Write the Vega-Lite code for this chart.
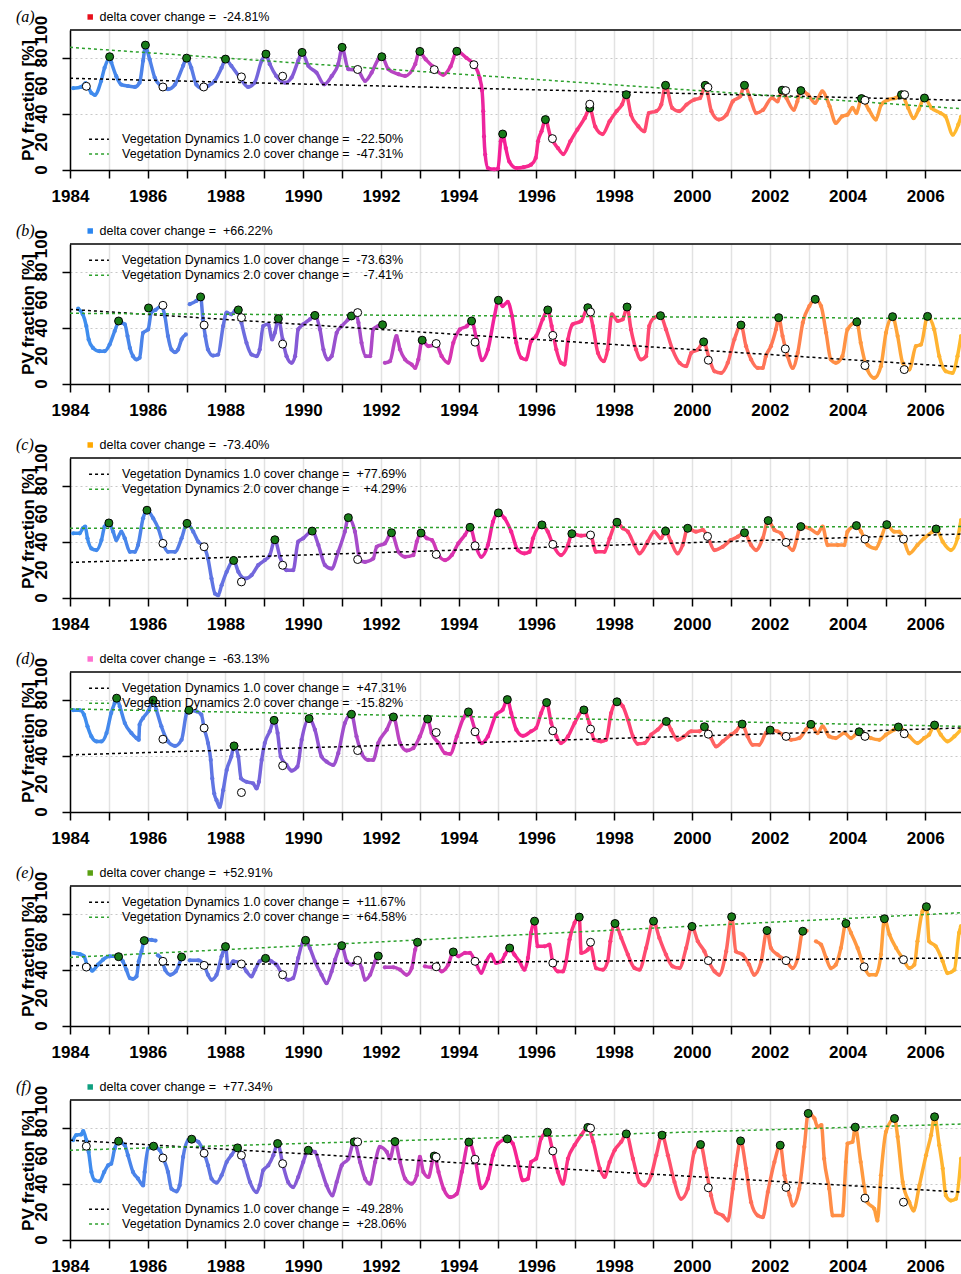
{
"$schema":"https://vega.github.io/schema/vega-lite/v6.json",
"padding":{"left":15,"top":8,"right":0,"bottom":0},
"bounds":"flush",
"spacing":74,
"config":{"view":{"stroke":null},"font":"Liberation Sans",
"axis":{"domainColor":"#000","domainWidth":1.5,"tickColor":"#000","tickWidth":1.5,"tickSize":8,"labelColor":"#000","labelFont":"Liberation Sans","labelFontWeight":"bold","labelFontSize":17,"labelPadding":10,"titleColor":"#000","titleFont":"Liberation Sans","titleFontWeight":"bold","titleFontSize":17},
"axisX":{"gridColor":"#e2e2e2","gridWidth":1.5},
"axisY":{"gridColor":"#c8c8c8","gridDash":[2,3],"gridWidth":1}},
"datasets":{
"yl":[{"y":0},{"y":20},{"y":40},{"y":60},{"y":80},{"y":100}],
"s":[
{"p":"a","t":1984.08,"v":58.4},{"p":"a","t":1984.29,"v":59.3},{"p":"a","t":1984.4,"v":62},{"p":"a","t":1984.55,"v":55},{"p":"a","t":1984.64,"v":53.6},{"p":"a","t":1984.8,"v":63.6},{"p":"a","t":1984.89,"v":73},{"p":"a","t":1985.02,"v":80},{"p":"a","t":1985.06,"v":77},{"p":"a","t":1985.19,"v":67},{"p":"a","t":1985.32,"v":61},{"p":"a","t":1985.49,"v":60},{"p":"a","t":1985.67,"v":59.3},{"p":"a","t":1985.79,"v":62.4},{"p":"a","t":1985.88,"v":78},{"p":"a","t":1985.94,"v":88},{"p":"a","t":1986.05,"v":79},{"p":"a","t":1986.18,"v":66},{"p":"a","t":1986.35,"v":59.8},{"p":"a","t":1986.52,"v":57.7},{"p":"a","t":1986.7,"v":61},{"p":"a","t":1986.91,"v":74.4},{"p":"a","t":1987.0,"v":80},{"p":"a","t":1987.12,"v":73},{"p":"a","t":1987.25,"v":61},{"p":"a","t":1987.38,"v":58.4},{"p":"a","t":1987.55,"v":60},{"p":"a","t":1987.72,"v":63.6},{"p":"a","t":1987.9,"v":73},{"p":"a","t":1988.0,"v":79},{"p":"a","t":1988.15,"v":74.4},{"p":"a","t":1988.37,"v":66},{"p":"a","t":1988.58,"v":59.3},{"p":"a","t":1988.75,"v":62.4},{"p":"a","t":1988.93,"v":78},{"p":"a","t":1989.04,"v":82.5},{"p":"a","t":1989.14,"v":75.6},{"p":"a","t":1989.31,"v":67},{"p":"a","t":1989.53,"v":62.4},{"p":"a","t":1989.7,"v":66},{"p":"a","t":1989.87,"v":78},{"p":"a","t":1989.97,"v":84},{"p":"a","t":1990.13,"v":74.4},{"p":"a","t":1990.34,"v":69.6},{"p":"a","t":1990.54,"v":61.2},{"p":"a","t":1990.73,"v":67},{"p":"a","t":1990.9,"v":75.6},{"p":"a","t":1991.0,"v":87},{"p":"a","t":1991.16,"v":72},{"p":"a","t":1991.4,"v":71.3},{"p":"a","t":1991.59,"v":63.6},{"p":"a","t":1991.76,"v":69.6},{"p":"a","t":1991.93,"v":79},{"p":"a","t":1992.02,"v":81},{"p":"a","t":1992.19,"v":72},{"p":"a","t":1992.45,"v":68.4},{"p":"a","t":1992.62,"v":67.2},{"p":"a","t":1992.88,"v":75.6},{"p":"a","t":1992.98,"v":84.3},{"p":"a","t":1993.15,"v":79},{"p":"a","t":1993.33,"v":74},{"p":"a","t":1993.6,"v":68},{"p":"a","t":1993.79,"v":74},{"p":"a","t":1993.95,"v":84.8},{"p":"a","t":1994.2,"v":80},{"p":"a","t":1994.39,"v":75.2},{"p":"a","t":1994.54,"v":65.7},{"p":"a","t":1994.6,"v":56.7},{"p":"a","t":1994.63,"v":42},{"p":"a","t":1994.65,"v":24},{"p":"a","t":1994.68,"v":11},{"p":"a","t":1994.75,"v":1.4},{"p":"a","t":1994.91,"v":0.5},{"p":"a","t":1995.01,"v":1},{"p":"a","t":1995.08,"v":20.5},{"p":"a","t":1995.13,"v":25.7},{"p":"a","t":1995.21,"v":15.7},{"p":"a","t":1995.3,"v":6},{"p":"a","t":1995.49,"v":1.4},{"p":"a","t":1995.67,"v":2},{"p":"a","t":1995.86,"v":3.8},{"p":"a","t":1995.98,"v":8.6},{"p":"a","t":1996.04,"v":20.5},{"p":"a","t":1996.13,"v":27.6},{"p":"a","t":1996.23,"v":36},{"p":"a","t":1996.36,"v":24},{"p":"a","t":1996.55,"v":15.7},{"p":"a","t":1996.69,"v":11.4},{"p":"a","t":1996.87,"v":20.5},{"p":"a","t":1997.05,"v":28.8},{"p":"a","t":1997.24,"v":37},{"p":"a","t":1997.37,"v":44},{"p":"a","t":1997.51,"v":31},{"p":"a","t":1997.7,"v":25.7},{"p":"a","t":1997.88,"v":34.8},{"p":"a","t":1998.06,"v":42},{"p":"a","t":1998.2,"v":46.7},{"p":"a","t":1998.31,"v":53.8},{"p":"a","t":1998.43,"v":39.5},{"p":"a","t":1998.62,"v":31.2},{"p":"a","t":1998.77,"v":27.6},{"p":"a","t":1998.89,"v":40.7},{"p":"a","t":1999.08,"v":42},{"p":"a","t":1999.21,"v":46.7},{"p":"a","t":1999.32,"v":60.5},{"p":"a","t":1999.49,"v":44.3},{"p":"a","t":1999.67,"v":42},{"p":"a","t":1999.86,"v":46.7},{"p":"a","t":2000.06,"v":50.2},{"p":"a","t":2000.21,"v":51.4},{"p":"a","t":2000.34,"v":60.5},{"p":"a","t":2000.5,"v":42},{"p":"a","t":2000.69,"v":36},{"p":"a","t":2000.89,"v":39.5},{"p":"a","t":2001.05,"v":49},{"p":"a","t":2001.24,"v":52.6},{"p":"a","t":2001.35,"v":60.5},{"p":"a","t":2001.51,"v":50.2},{"p":"a","t":2001.65,"v":40.7},{"p":"a","t":2001.83,"v":43},{"p":"a","t":2002.06,"v":51.4},{"p":"a","t":2002.2,"v":49},{"p":"a","t":2002.32,"v":57},{"p":"a","t":2002.43,"v":51.4},{"p":"a","t":2002.62,"v":43},{"p":"a","t":2002.71,"v":49},{"p":"a","t":2002.8,"v":56.7},{"p":"a","t":2002.98,"v":53.8},{"p":"a","t":2003.17,"v":47.9},{"p":"a","t":2003.35,"v":56.2},{"p":"a","t":2003.54,"v":45.5},{"p":"a","t":2003.7,"v":33.6},{"p":"a","t":2003.86,"v":38.3},{"p":"a","t":2004.0,"v":39.5},{"p":"a","t":2004.13,"v":44.3},{"p":"a","t":2004.23,"v":40.7},{"p":"a","t":2004.36,"v":51},{"p":"a","t":2004.55,"v":43},{"p":"a","t":2004.73,"v":36},{"p":"a","t":2004.87,"v":46.7},{"p":"a","t":2005.05,"v":50.2},{"p":"a","t":2005.24,"v":51.4},{"p":"a","t":2005.39,"v":53.8},{"p":"a","t":2005.56,"v":44.3},{"p":"a","t":2005.7,"v":37},{"p":"a","t":2005.83,"v":43},{"p":"a","t":2005.98,"v":51.4},{"p":"a","t":2006.16,"v":44.3},{"p":"a","t":2006.39,"v":40.7},{"p":"a","t":2006.52,"v":38.3},{"p":"a","t":2006.71,"v":25.2},{"p":"a","t":2006.85,"v":32.4},{"p":"a","t":2006.92,"v":38},
{"p":"b","t":1984.21,"v":53.8},{"p":"b","t":1984.33,"v":49.8},{"p":"b","t":1984.42,"v":41.4},{"p":"b","t":1984.48,"v":31.8},{"p":"b","t":1984.59,"v":25.8},{"p":"b","t":1984.76,"v":23.4},{"p":"b","t":1984.89,"v":23.4},{"p":"b","t":1985.02,"v":28.2},{"p":"b","t":1985.15,"v":37.8},{"p":"b","t":1985.25,"v":44},{"p":"b","t":1985.32,"v":43.8},{"p":"b","t":1985.41,"v":42.6},{"p":"b","t":1985.48,"v":34.2},{"p":"b","t":1985.54,"v":25.8},{"p":"b","t":1985.62,"v":19.9},{"p":"b","t":1985.71,"v":17.5},{"p":"b","t":1985.79,"v":18.7},{"p":"b","t":1985.88,"v":36.6},{"p":"b","t":1986.01,"v":39},{"p":"b","t":1986.09,"v":51},{"p":"b","t":1986.2,"v":52.9},{"p":"b","t":1986.35,"v":55.7},{"p":"b","t":1986.44,"v":48.6},{"p":"b","t":1986.52,"v":34.2},{"p":"b","t":1986.61,"v":24.6},{"p":"b","t":1986.7,"v":22.7},{"p":"b","t":1986.78,"v":24.6},{"p":"b","t":1986.87,"v":31.8},{"p":"b","t":1986.98,"v":35.4},{"p":"b","t":1987.03,"v":null},{"p":"b","t":1987.08,"v":57},{"p":"b","t":1987.25,"v":59.3},{"p":"b","t":1987.36,"v":62.2},{"p":"b","t":1987.42,"v":46.2},{"p":"b","t":1987.48,"v":34.2},{"p":"b","t":1987.55,"v":24.6},{"p":"b","t":1987.68,"v":20.3},{"p":"b","t":1987.81,"v":21},{"p":"b","t":1987.94,"v":41.4},{"p":"b","t":1988.03,"v":51},{"p":"b","t":1988.15,"v":49.8},{"p":"b","t":1988.24,"v":52.2},{"p":"b","t":1988.33,"v":52.9},{"p":"b","t":1988.41,"v":43.8},{"p":"b","t":1988.54,"v":29.4},{"p":"b","t":1988.67,"v":21},{"p":"b","t":1988.8,"v":19.9},{"p":"b","t":1988.88,"v":24.6},{"p":"b","t":1988.97,"v":41.4},{"p":"b","t":1989.1,"v":42.6},{"p":"b","t":1989.2,"v":31.8},{"p":"b","t":1989.27,"v":36.6},{"p":"b","t":1989.36,"v":46.7},{"p":"b","t":1989.47,"v":31.8},{"p":"b","t":1989.57,"v":19.9},{"p":"b","t":1989.7,"v":15.1},{"p":"b","t":1989.79,"v":19.9},{"p":"b","t":1989.87,"v":39},{"p":"b","t":1990.0,"v":42.6},{"p":"b","t":1990.17,"v":46.2},{"p":"b","t":1990.3,"v":49},{"p":"b","t":1990.43,"v":39},{"p":"b","t":1990.52,"v":24.6},{"p":"b","t":1990.63,"v":17.5},{"p":"b","t":1990.73,"v":19.9},{"p":"b","t":1990.86,"v":36.6},{"p":"b","t":1990.99,"v":41.4},{"p":"b","t":1991.16,"v":46.2},{"p":"b","t":1991.24,"v":48.6},{"p":"b","t":1991.35,"v":50},{"p":"b","t":1991.42,"v":43.8},{"p":"b","t":1991.5,"v":29.4},{"p":"b","t":1991.61,"v":19.9},{"p":"b","t":1991.72,"v":19.9},{"p":"b","t":1991.8,"v":39},{"p":"b","t":1991.93,"v":41.4},{"p":"b","t":1992.04,"v":42.3},{"p":"b","t":1992.07,"v":null},{"p":"b","t":1992.1,"v":15.1},{"p":"b","t":1992.23,"v":16.3},{"p":"b","t":1992.4,"v":34.2},{"p":"b","t":1992.49,"v":24.6},{"p":"b","t":1992.62,"v":17.5},{"p":"b","t":1992.79,"v":13.9},{"p":"b","t":1992.88,"v":11.5},{"p":"b","t":1992.96,"v":17.5},{"p":"b","t":1993.06,"v":31.3},{"p":"b","t":1993.22,"v":27},{"p":"b","t":1993.42,"v":28},{"p":"b","t":1993.56,"v":19.9},{"p":"b","t":1993.73,"v":15.1},{"p":"b","t":1993.86,"v":29.4},{"p":"b","t":1994.03,"v":39},{"p":"b","t":1994.21,"v":41.4},{"p":"b","t":1994.33,"v":45},{"p":"b","t":1994.46,"v":31.8},{"p":"b","t":1994.6,"v":17},{"p":"b","t":1994.75,"v":24.6},{"p":"b","t":1994.92,"v":48.6},{"p":"b","t":1995.02,"v":59.8},{"p":"b","t":1995.13,"v":55.7},{"p":"b","t":1995.26,"v":58.6},{"p":"b","t":1995.37,"v":48.6},{"p":"b","t":1995.48,"v":29.4},{"p":"b","t":1995.61,"v":18.7},{"p":"b","t":1995.73,"v":17.5},{"p":"b","t":1995.86,"v":30.6},{"p":"b","t":1995.99,"v":34.2},{"p":"b","t":1996.16,"v":46.2},{"p":"b","t":1996.29,"v":52.9},{"p":"b","t":1996.39,"v":41.4},{"p":"b","t":1996.51,"v":24.6},{"p":"b","t":1996.63,"v":15.1},{"p":"b","t":1996.72,"v":13.9},{"p":"b","t":1996.81,"v":31.8},{"p":"b","t":1996.93,"v":42.6},{"p":"b","t":1997.15,"v":45},{"p":"b","t":1997.32,"v":54.5},{"p":"b","t":1997.45,"v":41.4},{"p":"b","t":1997.58,"v":22.2},{"p":"b","t":1997.73,"v":16.3},{"p":"b","t":1997.83,"v":24.6},{"p":"b","t":1997.94,"v":49.8},{"p":"b","t":1998.09,"v":45},{"p":"b","t":1998.22,"v":46.2},{"p":"b","t":1998.33,"v":55},{"p":"b","t":1998.43,"v":39},{"p":"b","t":1998.56,"v":24.6},{"p":"b","t":1998.69,"v":17.5},{"p":"b","t":1998.82,"v":19.9},{"p":"b","t":1998.9,"v":41.4},{"p":"b","t":1999.03,"v":47.4},{"p":"b","t":1999.19,"v":48.8},{"p":"b","t":1999.33,"v":39},{"p":"b","t":1999.5,"v":24.6},{"p":"b","t":1999.68,"v":15.1},{"p":"b","t":1999.85,"v":12.7},{"p":"b","t":1999.98,"v":22.2},{"p":"b","t":2000.15,"v":24.6},{"p":"b","t":2000.3,"v":30.1},{"p":"b","t":2000.45,"v":17.5},{"p":"b","t":2000.58,"v":9.1},{"p":"b","t":2000.75,"v":7.9},{"p":"b","t":2000.92,"v":15.1},{"p":"b","t":2001.09,"v":31.8},{"p":"b","t":2001.26,"v":42.1},{"p":"b","t":2001.39,"v":27},{"p":"b","t":2001.52,"v":17.5},{"p":"b","t":2001.69,"v":11.5},{"p":"b","t":2001.82,"v":11.5},{"p":"b","t":2001.9,"v":19.9},{"p":"b","t":2002.03,"v":27},{"p":"b","t":2002.16,"v":39},{"p":"b","t":2002.23,"v":47.4},{"p":"b","t":2002.33,"v":34.2},{"p":"b","t":2002.46,"v":19.9},{"p":"b","t":2002.59,"v":11.5},{"p":"b","t":2002.72,"v":22.2},{"p":"b","t":2002.85,"v":43.8},{"p":"b","t":2003.02,"v":55.7},{"p":"b","t":2003.17,"v":60.5},{"p":"b","t":2003.32,"v":55.7},{"p":"b","t":2003.45,"v":36.6},{"p":"b","t":2003.57,"v":17.5},{"p":"b","t":2003.7,"v":15.1},{"p":"b","t":2003.87,"v":19.9},{"p":"b","t":2004.0,"v":39},{"p":"b","t":2004.24,"v":44.3},{"p":"b","t":2004.34,"v":29.4},{"p":"b","t":2004.51,"v":10.3},{"p":"b","t":2004.69,"v":4.3},{"p":"b","t":2004.86,"v":12.7},{"p":"b","t":2004.99,"v":36.6},{"p":"b","t":2005.16,"v":48.1},{"p":"b","t":2005.29,"v":34.2},{"p":"b","t":2005.42,"v":15.1},{"p":"b","t":2005.59,"v":10.3},{"p":"b","t":2005.76,"v":27},{"p":"b","t":2005.89,"v":28.2},{"p":"b","t":2006.06,"v":48.3},{"p":"b","t":2006.23,"v":39},{"p":"b","t":2006.36,"v":19.9},{"p":"b","t":2006.53,"v":9.1},{"p":"b","t":2006.7,"v":7.9},{"p":"b","t":2006.83,"v":19.9},{"p":"b","t":2006.92,"v":34.2},
{"p":"c","t":1984.08,"v":46.2},{"p":"c","t":1984.25,"v":46.2},{"p":"c","t":1984.33,"v":49.8},{"p":"c","t":1984.39,"v":51},{"p":"c","t":1984.45,"v":42.6},{"p":"c","t":1984.55,"v":35.4},{"p":"c","t":1984.68,"v":34.2},{"p":"c","t":1984.81,"v":41.4},{"p":"c","t":1984.89,"v":51},{"p":"c","t":1985.0,"v":53.6},{"p":"c","t":1985.11,"v":47.4},{"p":"c","t":1985.19,"v":41.4},{"p":"c","t":1985.32,"v":47.4},{"p":"c","t":1985.41,"v":42.6},{"p":"c","t":1985.54,"v":33},{"p":"c","t":1985.67,"v":33},{"p":"c","t":1985.75,"v":37.8},{"p":"c","t":1985.88,"v":56.9},{"p":"c","t":1985.98,"v":62.7},{"p":"c","t":1986.14,"v":56.9},{"p":"c","t":1986.27,"v":49.8},{"p":"c","t":1986.39,"v":39},{"p":"c","t":1986.52,"v":33},{"p":"c","t":1986.7,"v":33},{"p":"c","t":1986.87,"v":42.6},{"p":"c","t":1987.01,"v":53.3},{"p":"c","t":1987.17,"v":47.4},{"p":"c","t":1987.3,"v":40.2},{"p":"c","t":1987.45,"v":36.6},{"p":"c","t":1987.55,"v":28.2},{"p":"c","t":1987.64,"v":13.9},{"p":"c","t":1987.73,"v":3.1},{"p":"c","t":1987.81,"v":1.9},{"p":"c","t":1987.9,"v":9.1},{"p":"c","t":1988.03,"v":18.7},{"p":"c","t":1988.21,"v":26.8},{"p":"c","t":1988.33,"v":18.7},{"p":"c","t":1988.5,"v":13.9},{"p":"c","t":1988.67,"v":16.3},{"p":"c","t":1988.84,"v":23.4},{"p":"c","t":1989.01,"v":27},{"p":"c","t":1989.14,"v":30.6},{"p":"c","t":1989.27,"v":41.6},{"p":"c","t":1989.4,"v":29.4},{"p":"c","t":1989.57,"v":19.9},{"p":"c","t":1989.74,"v":19.9},{"p":"c","t":1989.87,"v":40.2},{"p":"c","t":1990.0,"v":42.6},{"p":"c","t":1990.23,"v":47.8},{"p":"c","t":1990.39,"v":37.8},{"p":"c","t":1990.56,"v":23.4},{"p":"c","t":1990.73,"v":21},{"p":"c","t":1990.9,"v":33},{"p":"c","t":1991.07,"v":47.4},{"p":"c","t":1991.16,"v":57.4},{"p":"c","t":1991.33,"v":47.4},{"p":"c","t":1991.46,"v":27},{"p":"c","t":1991.59,"v":25.8},{"p":"c","t":1991.8,"v":28.2},{"p":"c","t":1991.89,"v":36.6},{"p":"c","t":1992.1,"v":39},{"p":"c","t":1992.27,"v":46.6},{"p":"c","t":1992.45,"v":33},{"p":"c","t":1992.62,"v":29.4},{"p":"c","t":1992.83,"v":30.6},{"p":"c","t":1992.92,"v":40.2},{"p":"c","t":1993.03,"v":46.4},{"p":"c","t":1993.18,"v":42.6},{"p":"c","t":1993.31,"v":41.4},{"p":"c","t":1993.48,"v":30.6},{"p":"c","t":1993.65,"v":27},{"p":"c","t":1993.82,"v":30.6},{"p":"c","t":1993.99,"v":39},{"p":"c","t":1994.16,"v":45},{"p":"c","t":1994.29,"v":50.5},{"p":"c","t":1994.45,"v":36},{"p":"c","t":1994.58,"v":29.4},{"p":"c","t":1994.75,"v":37.8},{"p":"c","t":1994.88,"v":54.5},{"p":"c","t":1995.02,"v":60.8},{"p":"c","t":1995.18,"v":56.9},{"p":"c","t":1995.35,"v":47.4},{"p":"c","t":1995.52,"v":34.2},{"p":"c","t":1995.69,"v":31.8},{"p":"c","t":1995.82,"v":33},{"p":"c","t":1995.91,"v":42.6},{"p":"c","t":1996.14,"v":52.2},{"p":"c","t":1996.29,"v":47.4},{"p":"c","t":1996.42,"v":38.3},{"p":"c","t":1996.63,"v":30.6},{"p":"c","t":1996.81,"v":37.8},{"p":"c","t":1996.91,"v":45.9},{"p":"c","t":1997.15,"v":44.5},{"p":"c","t":1997.39,"v":45},{"p":"c","t":1997.53,"v":33},{"p":"c","t":1997.75,"v":33},{"p":"c","t":1997.88,"v":42.6},{"p":"c","t":1998.07,"v":54.1},{"p":"c","t":1998.22,"v":49.8},{"p":"c","t":1998.35,"v":47.4},{"p":"c","t":1998.52,"v":37.8},{"p":"c","t":1998.65,"v":31.8},{"p":"c","t":1998.86,"v":40.2},{"p":"c","t":1999.03,"v":47.4},{"p":"c","t":1999.2,"v":42.6},{"p":"c","t":1999.32,"v":47.8},{"p":"c","t":1999.46,"v":40.2},{"p":"c","t":1999.63,"v":31.8},{"p":"c","t":1999.76,"v":37.8},{"p":"c","t":1999.89,"v":49.8},{"p":"c","t":2000.1,"v":47.4},{"p":"c","t":2000.28,"v":48.6},{"p":"c","t":2000.4,"v":44},{"p":"c","t":2000.58,"v":34.2},{"p":"c","t":2000.79,"v":36.6},{"p":"c","t":2001.0,"v":41.4},{"p":"c","t":2001.18,"v":43.8},{"p":"c","t":2001.35,"v":46.6},{"p":"c","t":2001.52,"v":37.8},{"p":"c","t":2001.65,"v":34.2},{"p":"c","t":2001.82,"v":42.6},{"p":"c","t":2001.96,"v":55.3},{"p":"c","t":2002.12,"v":48.6},{"p":"c","t":2002.29,"v":46.2},{"p":"c","t":2002.42,"v":39.7},{"p":"c","t":2002.59,"v":34.2},{"p":"c","t":2002.8,"v":51},{"p":"c","t":2003.02,"v":49.8},{"p":"c","t":2003.23,"v":46.2},{"p":"c","t":2003.36,"v":51},{"p":"c","t":2003.49,"v":37.8},{"p":"c","t":2003.75,"v":37.8},{"p":"c","t":2003.92,"v":37.8},{"p":"c","t":2004.0,"v":47.4},{"p":"c","t":2004.23,"v":51.7},{"p":"c","t":2004.35,"v":47.4},{"p":"c","t":2004.52,"v":37.8},{"p":"c","t":2004.73,"v":35.4},{"p":"c","t":2004.86,"v":42.6},{"p":"c","t":2005.01,"v":52.4},{"p":"c","t":2005.2,"v":47.4},{"p":"c","t":2005.33,"v":47.4},{"p":"c","t":2005.44,"v":42.1},{"p":"c","t":2005.59,"v":31.8},{"p":"c","t":2005.8,"v":37.8},{"p":"c","t":2005.97,"v":42.6},{"p":"c","t":2006.19,"v":47.4},{"p":"c","t":2006.28,"v":49.3},{"p":"c","t":2006.45,"v":40.2},{"p":"c","t":2006.66,"v":34.2},{"p":"c","t":2006.83,"v":42.6},{"p":"c","t":2006.92,"v":55.7},
{"p":"d","t":1984.08,"v":72.7},{"p":"d","t":1984.25,"v":72.7},{"p":"d","t":1984.36,"v":69.5},{"p":"d","t":1984.45,"v":61.2},{"p":"d","t":1984.55,"v":54},{"p":"d","t":1984.68,"v":50.4},{"p":"d","t":1984.81,"v":50.4},{"p":"d","t":1984.94,"v":56.4},{"p":"d","t":1985.06,"v":70.7},{"p":"d","t":1985.15,"v":77.9},{"p":"d","t":1985.2,"v":81.3},{"p":"d","t":1985.28,"v":75.5},{"p":"d","t":1985.41,"v":63.5},{"p":"d","t":1985.58,"v":56.4},{"p":"d","t":1985.71,"v":52.8},{"p":"d","t":1985.77,"v":51.6},{"p":"d","t":1985.79,"v":62.4},{"p":"d","t":1985.88,"v":67.1},{"p":"d","t":1986.01,"v":71.9},{"p":"d","t":1986.14,"v":79.9},{"p":"d","t":1986.22,"v":73.1},{"p":"d","t":1986.35,"v":61.2},{"p":"d","t":1986.52,"v":50.4},{"p":"d","t":1986.7,"v":47.2},{"p":"d","t":1986.87,"v":51.6},{"p":"d","t":1987.0,"v":70.7},{"p":"d","t":1987.06,"v":72.7},{"p":"d","t":1987.25,"v":71.9},{"p":"d","t":1987.38,"v":69.5},{"p":"d","t":1987.45,"v":60},{"p":"d","t":1987.55,"v":49.2},{"p":"d","t":1987.62,"v":37.2},{"p":"d","t":1987.66,"v":24},{"p":"d","t":1987.71,"v":13.2},{"p":"d","t":1987.77,"v":8.4},{"p":"d","t":1987.85,"v":3.6},{"p":"d","t":1987.94,"v":15.6},{"p":"d","t":1988.03,"v":30},{"p":"d","t":1988.15,"v":39.6},{"p":"d","t":1988.22,"v":47.2},{"p":"d","t":1988.33,"v":39.6},{"p":"d","t":1988.4,"v":24},{"p":"d","t":1988.54,"v":21.6},{"p":"d","t":1988.71,"v":20.4},{"p":"d","t":1988.8,"v":16.8},{"p":"d","t":1988.86,"v":21.6},{"p":"d","t":1988.93,"v":37.2},{"p":"d","t":1989.01,"v":49.2},{"p":"d","t":1989.14,"v":57.6},{"p":"d","t":1989.25,"v":65.5},{"p":"d","t":1989.34,"v":56.4},{"p":"d","t":1989.42,"v":39.6},{"p":"d","t":1989.57,"v":33.6},{"p":"d","t":1989.7,"v":29.5},{"p":"d","t":1989.85,"v":32.4},{"p":"d","t":1989.96,"v":51.6},{"p":"d","t":1990.15,"v":66.7},{"p":"d","t":1990.3,"v":58.8},{"p":"d","t":1990.47,"v":39.6},{"p":"d","t":1990.6,"v":36},{"p":"d","t":1990.77,"v":33.6},{"p":"d","t":1990.9,"v":42},{"p":"d","t":1991.07,"v":63.5},{"p":"d","t":1991.24,"v":69.8},{"p":"d","t":1991.37,"v":54},{"p":"d","t":1991.5,"v":42},{"p":"d","t":1991.67,"v":37.2},{"p":"d","t":1991.8,"v":37.2},{"p":"d","t":1991.93,"v":49.2},{"p":"d","t":1992.15,"v":58.8},{"p":"d","t":1992.32,"v":67.9},{"p":"d","t":1992.49,"v":49.2},{"p":"d","t":1992.66,"v":43.9},{"p":"d","t":1992.83,"v":45.6},{"p":"d","t":1993.0,"v":54},{"p":"d","t":1993.2,"v":66.4},{"p":"d","t":1993.3,"v":56.4},{"p":"d","t":1993.48,"v":49.2},{"p":"d","t":1993.65,"v":42},{"p":"d","t":1993.78,"v":41.5},{"p":"d","t":1993.95,"v":54},{"p":"d","t":1994.12,"v":67.1},{"p":"d","t":1994.25,"v":71.5},{"p":"d","t":1994.42,"v":58.8},{"p":"d","t":1994.59,"v":49.2},{"p":"d","t":1994.75,"v":54},{"p":"d","t":1994.96,"v":69.5},{"p":"d","t":1995.13,"v":73.1},{"p":"d","t":1995.25,"v":80.3},{"p":"d","t":1995.35,"v":70.7},{"p":"d","t":1995.48,"v":58.8},{"p":"d","t":1995.65,"v":54.4},{"p":"d","t":1995.86,"v":57.6},{"p":"d","t":1995.99,"v":60},{"p":"d","t":1996.12,"v":70.7},{"p":"d","t":1996.26,"v":78.2},{"p":"d","t":1996.38,"v":63.5},{"p":"d","t":1996.51,"v":54},{"p":"d","t":1996.63,"v":49.2},{"p":"d","t":1996.81,"v":54},{"p":"d","t":1996.98,"v":63.5},{"p":"d","t":1997.22,"v":72.9},{"p":"d","t":1997.36,"v":63.5},{"p":"d","t":1997.49,"v":51.6},{"p":"d","t":1997.66,"v":50.4},{"p":"d","t":1997.79,"v":51.6},{"p":"d","t":1997.92,"v":70.7},{"p":"d","t":1998.07,"v":78.7},{"p":"d","t":1998.22,"v":75.5},{"p":"d","t":1998.35,"v":66},{"p":"d","t":1998.48,"v":54},{"p":"d","t":1998.6,"v":48.7},{"p":"d","t":1998.78,"v":49.2},{"p":"d","t":1998.95,"v":55.2},{"p":"d","t":1999.12,"v":58.8},{"p":"d","t":1999.34,"v":64.7},{"p":"d","t":1999.46,"v":58.8},{"p":"d","t":1999.63,"v":51.6},{"p":"d","t":1999.8,"v":54},{"p":"d","t":1999.98,"v":57.6},{"p":"d","t":2000.19,"v":57.6},{"p":"d","t":2000.32,"v":60.9},{"p":"d","t":2000.49,"v":52.8},{"p":"d","t":2000.62,"v":46.8},{"p":"d","t":2000.79,"v":50.4},{"p":"d","t":2001.0,"v":55.2},{"p":"d","t":2001.13,"v":57.6},{"p":"d","t":2001.29,"v":62.8},{"p":"d","t":2001.43,"v":54},{"p":"d","t":2001.56,"v":48},{"p":"d","t":2001.73,"v":48},{"p":"d","t":2001.9,"v":56.4},{"p":"d","t":2002.01,"v":58.5},{"p":"d","t":2002.2,"v":57.6},{"p":"d","t":2002.33,"v":55.2},{"p":"d","t":2002.55,"v":51.6},{"p":"d","t":2002.76,"v":52.8},{"p":"d","t":2002.93,"v":58.8},{"p":"d","t":2003.06,"v":62.6},{"p":"d","t":2003.23,"v":56.4},{"p":"d","t":2003.36,"v":61.2},{"p":"d","t":2003.53,"v":54},{"p":"d","t":2003.7,"v":52.8},{"p":"d","t":2003.92,"v":56.4},{"p":"d","t":2004.09,"v":52.8},{"p":"d","t":2004.3,"v":57.3},{"p":"d","t":2004.6,"v":52.8},{"p":"d","t":2004.82,"v":51.6},{"p":"d","t":2004.99,"v":55.2},{"p":"d","t":2005.2,"v":58.8},{"p":"d","t":2005.31,"v":60.7},{"p":"d","t":2005.59,"v":54},{"p":"d","t":2005.8,"v":49.2},{"p":"d","t":2005.97,"v":52.8},{"p":"d","t":2006.1,"v":55.2},{"p":"d","t":2006.24,"v":62.1},{"p":"d","t":2006.4,"v":55.2},{"p":"d","t":2006.57,"v":50.4},{"p":"d","t":2006.75,"v":54},{"p":"d","t":2006.92,"v":58.8},
{"p":"e","t":1984.08,"v":52.2},{"p":"e","t":1984.25,"v":51.4},{"p":"e","t":1984.36,"v":49.8},{"p":"e","t":1984.45,"v":43},{"p":"e","t":1984.51,"v":41.4},{"p":"e","t":1984.57,"v":39.5},{"p":"e","t":1984.72,"v":43.8},{"p":"e","t":1984.85,"v":47.4},{"p":"e","t":1985.02,"v":49.8},{"p":"e","t":1985.19,"v":49.8},{"p":"e","t":1985.25,"v":49.5},{"p":"e","t":1985.36,"v":46.2},{"p":"e","t":1985.45,"v":40.2},{"p":"e","t":1985.54,"v":34.2},{"p":"e","t":1985.62,"v":33.7},{"p":"e","t":1985.71,"v":35.4},{"p":"e","t":1985.77,"v":46.2},{"p":"e","t":1985.84,"v":53.3},{"p":"e","t":1985.91,"v":61},{"p":"e","t":1986.0,"v":61.7},{"p":"e","t":1986.1,"v":61.5},{"p":"e","t":1986.2,"v":61},{"p":"e","t":1986.23,"v":null},{"p":"e","t":1986.26,"v":50.5},{"p":"e","t":1986.35,"v":48},{"p":"e","t":1986.45,"v":40},{"p":"e","t":1986.58,"v":36.6},{"p":"e","t":1986.72,"v":39},{"p":"e","t":1986.87,"v":49.3},{"p":"e","t":1986.97,"v":null},{"p":"e","t":1987.08,"v":46.9},{"p":"e","t":1987.3,"v":46.9},{"p":"e","t":1987.45,"v":43.3},{"p":"e","t":1987.55,"v":36.6},{"p":"e","t":1987.64,"v":33},{"p":"e","t":1987.77,"v":36.6},{"p":"e","t":1987.9,"v":49.8},{"p":"e","t":1988.0,"v":56.7},{"p":"e","t":1988.07,"v":41.4},{"p":"e","t":1988.2,"v":46.2},{"p":"e","t":1988.41,"v":44.3},{"p":"e","t":1988.54,"v":39},{"p":"e","t":1988.67,"v":35.4},{"p":"e","t":1988.76,"v":40.2},{"p":"e","t":1988.88,"v":46.2},{"p":"e","t":1989.03,"v":48.3},{"p":"e","t":1989.18,"v":46.2},{"p":"e","t":1989.31,"v":43.8},{"p":"e","t":1989.47,"v":36.6},{"p":"e","t":1989.61,"v":33},{"p":"e","t":1989.74,"v":34.2},{"p":"e","t":1989.87,"v":48.6},{"p":"e","t":1990.0,"v":60.5},{"p":"e","t":1990.06,"v":61.2},{"p":"e","t":1990.17,"v":55.7},{"p":"e","t":1990.3,"v":46.2},{"p":"e","t":1990.47,"v":36.6},{"p":"e","t":1990.6,"v":30.6},{"p":"e","t":1990.73,"v":39},{"p":"e","t":1990.82,"v":47.4},{"p":"e","t":1990.99,"v":57.4},{"p":"e","t":1991.12,"v":46.2},{"p":"e","t":1991.24,"v":43.8},{"p":"e","t":1991.4,"v":46.9},{"p":"e","t":1991.5,"v":41.4},{"p":"e","t":1991.59,"v":33},{"p":"e","t":1991.72,"v":36.6},{"p":"e","t":1991.85,"v":46.2},{"p":"e","t":1991.93,"v":50},{"p":"e","t":1992.0,"v":null},{"p":"e","t":1992.1,"v":41.9},{"p":"e","t":1992.32,"v":41.9},{"p":"e","t":1992.49,"v":40.2},{"p":"e","t":1992.66,"v":36.6},{"p":"e","t":1992.79,"v":41.4},{"p":"e","t":1992.88,"v":54.5},{"p":"e","t":1992.94,"v":59.8},{"p":"e","t":1993.03,"v":null},{"p":"e","t":1993.13,"v":42.6},{"p":"e","t":1993.3,"v":41.9},{"p":"e","t":1993.42,"v":42.3},{"p":"e","t":1993.56,"v":39},{"p":"e","t":1993.73,"v":43.8},{"p":"e","t":1993.86,"v":52.9},{"p":"e","t":1993.99,"v":49.8},{"p":"e","t":1994.16,"v":52.2},{"p":"e","t":1994.29,"v":52.2},{"p":"e","t":1994.42,"v":46.2},{"p":"e","t":1994.58,"v":38},{"p":"e","t":1994.71,"v":46.2},{"p":"e","t":1994.83,"v":51},{"p":"e","t":1994.96,"v":45},{"p":"e","t":1995.09,"v":46.2},{"p":"e","t":1995.19,"v":51},{"p":"e","t":1995.31,"v":55.7},{"p":"e","t":1995.43,"v":51},{"p":"e","t":1995.56,"v":46.2},{"p":"e","t":1995.69,"v":40.2},{"p":"e","t":1995.78,"v":48.6},{"p":"e","t":1995.86,"v":66.5},{"p":"e","t":1995.95,"v":74.9},{"p":"e","t":1996.03,"v":56.9},{"p":"e","t":1996.21,"v":56.9},{"p":"e","t":1996.33,"v":58.1},{"p":"e","t":1996.42,"v":45},{"p":"e","t":1996.55,"v":39},{"p":"e","t":1996.68,"v":39},{"p":"e","t":1996.76,"v":46.2},{"p":"e","t":1996.85,"v":61.7},{"p":"e","t":1996.98,"v":73.7},{"p":"e","t":1997.1,"v":77.8},{"p":"e","t":1997.15,"v":52.2},{"p":"e","t":1997.32,"v":54.5},{"p":"e","t":1997.39,"v":57},{"p":"e","t":1997.53,"v":41.4},{"p":"e","t":1997.71,"v":40.2},{"p":"e","t":1997.83,"v":46.2},{"p":"e","t":1997.9,"v":60.5},{"p":"e","t":1998.02,"v":73.2},{"p":"e","t":1998.18,"v":62.9},{"p":"e","t":1998.35,"v":51},{"p":"e","t":1998.52,"v":41.4},{"p":"e","t":1998.65,"v":40.2},{"p":"e","t":1998.82,"v":55.7},{"p":"e","t":1999.01,"v":74.9},{"p":"e","t":1999.16,"v":62.9},{"p":"e","t":1999.33,"v":51},{"p":"e","t":1999.5,"v":42.6},{"p":"e","t":1999.68,"v":41.4},{"p":"e","t":1999.85,"v":55.7},{"p":"e","t":2000.0,"v":71.1},{"p":"e","t":2000.15,"v":60.5},{"p":"e","t":2000.32,"v":53.3},{"p":"e","t":2000.42,"v":46.7},{"p":"e","t":2000.58,"v":39},{"p":"e","t":2000.7,"v":36.6},{"p":"e","t":2000.88,"v":53.3},{"p":"e","t":2001.02,"v":78},{"p":"e","t":2001.13,"v":53.3},{"p":"e","t":2001.3,"v":51},{"p":"e","t":2001.47,"v":43.8},{"p":"e","t":2001.6,"v":36.6},{"p":"e","t":2001.78,"v":46.2},{"p":"e","t":2001.93,"v":68.2},{"p":"e","t":2002.03,"v":55.7},{"p":"e","t":2002.2,"v":51},{"p":"e","t":2002.42,"v":46.7},{"p":"e","t":2002.59,"v":41.4},{"p":"e","t":2002.72,"v":48.6},{"p":"e","t":2002.85,"v":67.7},{"p":"e","t":2002.95,"v":68},{"p":"e","t":2003.05,"v":null},{"p":"e","t":2003.19,"v":60.5},{"p":"e","t":2003.32,"v":58.1},{"p":"e","t":2003.45,"v":48.6},{"p":"e","t":2003.57,"v":41.4},{"p":"e","t":2003.7,"v":43.8},{"p":"e","t":2003.83,"v":55.7},{"p":"e","t":2003.96,"v":73.2},{"p":"e","t":2004.09,"v":66.5},{"p":"e","t":2004.26,"v":55.7},{"p":"e","t":2004.43,"v":42.3},{"p":"e","t":2004.56,"v":36.6},{"p":"e","t":2004.73,"v":36.6},{"p":"e","t":2004.86,"v":51},{"p":"e","t":2004.95,"v":76.6},{"p":"e","t":2005.08,"v":65.3},{"p":"e","t":2005.25,"v":55.7},{"p":"e","t":2005.44,"v":47.4},{"p":"e","t":2005.59,"v":41.4},{"p":"e","t":2005.72,"v":43.8},{"p":"e","t":2005.8,"v":60.5},{"p":"e","t":2005.93,"v":82},{"p":"e","t":2006.03,"v":85.2},{"p":"e","t":2006.1,"v":60.5},{"p":"e","t":2006.27,"v":56.9},{"p":"e","t":2006.45,"v":46.2},{"p":"e","t":2006.57,"v":37.8},{"p":"e","t":2006.75,"v":40.2},{"p":"e","t":2006.87,"v":66.5},{"p":"e","t":2006.92,"v":71.3},
{"p":"f","t":1984.08,"v":71.3},{"p":"f","t":1984.16,"v":74.9},{"p":"f","t":1984.29,"v":75.4},{"p":"f","t":1984.34,"v":77.8},{"p":"f","t":1984.42,"v":71.3},{"p":"f","t":1984.48,"v":62.9},{"p":"f","t":1984.55,"v":48.6},{"p":"f","t":1984.64,"v":42.6},{"p":"f","t":1984.76,"v":41.9},{"p":"f","t":1984.88,"v":48.6},{"p":"f","t":1984.98,"v":53.3},{"p":"f","t":1985.06,"v":54.5},{"p":"f","t":1985.15,"v":65.3},{"p":"f","t":1985.25,"v":70.6},{"p":"f","t":1985.41,"v":67.7},{"p":"f","t":1985.49,"v":60.5},{"p":"f","t":1985.62,"v":48.6},{"p":"f","t":1985.75,"v":43.8},{"p":"f","t":1985.88,"v":39},{"p":"f","t":1985.92,"v":48.6},{"p":"f","t":1986.01,"v":65.3},{"p":"f","t":1986.15,"v":67},{"p":"f","t":1986.31,"v":64.1},{"p":"f","t":1986.39,"v":59},{"p":"f","t":1986.52,"v":48.6},{"p":"f","t":1986.61,"v":36.6},{"p":"f","t":1986.74,"v":34.7},{"p":"f","t":1986.82,"v":39},{"p":"f","t":1986.91,"v":59.3},{"p":"f","t":1987.04,"v":71.3},{"p":"f","t":1987.13,"v":72},{"p":"f","t":1987.3,"v":70.1},{"p":"f","t":1987.45,"v":62},{"p":"f","t":1987.55,"v":53.3},{"p":"f","t":1987.64,"v":43.8},{"p":"f","t":1987.77,"v":40.9},{"p":"f","t":1987.9,"v":46.2},{"p":"f","t":1988.03,"v":55.7},{"p":"f","t":1988.15,"v":60.5},{"p":"f","t":1988.31,"v":65.8},{"p":"f","t":1988.5,"v":53.3},{"p":"f","t":1988.63,"v":41.4},{"p":"f","t":1988.8,"v":34.2},{"p":"f","t":1988.88,"v":39},{"p":"f","t":1988.97,"v":49.8},{"p":"f","t":1989.1,"v":53.3},{"p":"f","t":1989.23,"v":60.5},{"p":"f","t":1989.34,"v":68.9},{"p":"f","t":1989.48,"v":53.3},{"p":"f","t":1989.61,"v":41.4},{"p":"f","t":1989.74,"v":37.8},{"p":"f","t":1989.87,"v":45},{"p":"f","t":1990.0,"v":55.7},{"p":"f","t":1990.13,"v":64.1},{"p":"f","t":1990.3,"v":62.9},{"p":"f","t":1990.43,"v":53.3},{"p":"f","t":1990.6,"v":39},{"p":"f","t":1990.75,"v":31.8},{"p":"f","t":1990.86,"v":41.4},{"p":"f","t":1990.99,"v":53.3},{"p":"f","t":1991.16,"v":58.1},{"p":"f","t":1991.31,"v":70.1},{"p":"f","t":1991.46,"v":55.7},{"p":"f","t":1991.59,"v":43.8},{"p":"f","t":1991.72,"v":40.2},{"p":"f","t":1991.85,"v":55.7},{"p":"f","t":1991.97,"v":66.5},{"p":"f","t":1992.15,"v":62.9},{"p":"f","t":1992.23,"v":58.1},{"p":"f","t":1992.36,"v":70.3},{"p":"f","t":1992.49,"v":55.7},{"p":"f","t":1992.62,"v":43.8},{"p":"f","t":1992.79,"v":40.2},{"p":"f","t":1992.92,"v":46.2},{"p":"f","t":1993.0,"v":59.3},{"p":"f","t":1993.09,"v":48.6},{"p":"f","t":1993.22,"v":45},{"p":"f","t":1993.37,"v":60},{"p":"f","t":1993.48,"v":48.6},{"p":"f","t":1993.61,"v":36.6},{"p":"f","t":1993.78,"v":30.6},{"p":"f","t":1993.95,"v":33},{"p":"f","t":1994.08,"v":48.6},{"p":"f","t":1994.26,"v":69.9},{"p":"f","t":1994.42,"v":58.1},{"p":"f","t":1994.58,"v":37},{"p":"f","t":1994.75,"v":43.8},{"p":"f","t":1994.88,"v":60.5},{"p":"f","t":1995.01,"v":68.9},{"p":"f","t":1995.25,"v":72.2},{"p":"f","t":1995.39,"v":68.9},{"p":"f","t":1995.52,"v":55.7},{"p":"f","t":1995.65,"v":42.6},{"p":"f","t":1995.78,"v":43.8},{"p":"f","t":1995.86,"v":55.7},{"p":"f","t":1995.99,"v":58.1},{"p":"f","t":1996.12,"v":72.5},{"p":"f","t":1996.28,"v":77},{"p":"f","t":1996.42,"v":63},{"p":"f","t":1996.55,"v":48.6},{"p":"f","t":1996.68,"v":40.2},{"p":"f","t":1996.81,"v":58.1},{"p":"f","t":1996.98,"v":67.7},{"p":"f","t":1997.15,"v":74.9},{"p":"f","t":1997.32,"v":80.4},{"p":"f","t":1997.46,"v":70.1},{"p":"f","t":1997.63,"v":51},{"p":"f","t":1997.75,"v":45},{"p":"f","t":1997.88,"v":55.7},{"p":"f","t":1998.01,"v":64.1},{"p":"f","t":1998.18,"v":70.1},{"p":"f","t":1998.31,"v":75.8},{"p":"f","t":1998.48,"v":58.1},{"p":"f","t":1998.65,"v":41.4},{"p":"f","t":1998.78,"v":39},{"p":"f","t":1998.95,"v":46.2},{"p":"f","t":1999.08,"v":60.5},{"p":"f","t":1999.23,"v":74.9},{"p":"f","t":1999.38,"v":60.5},{"p":"f","t":1999.55,"v":41.4},{"p":"f","t":1999.72,"v":29.4},{"p":"f","t":1999.89,"v":36.6},{"p":"f","t":2000.06,"v":62.9},{"p":"f","t":2000.22,"v":68.2},{"p":"f","t":2000.36,"v":51},{"p":"f","t":2000.49,"v":31.8},{"p":"f","t":2000.62,"v":19.9},{"p":"f","t":2000.79,"v":17.5},{"p":"f","t":2000.92,"v":13.9},{"p":"f","t":2001.05,"v":36.6},{"p":"f","t":2001.13,"v":53.3},{"p":"f","t":2001.25,"v":70.8},{"p":"f","t":2001.39,"v":51},{"p":"f","t":2001.52,"v":27},{"p":"f","t":2001.69,"v":17.5},{"p":"f","t":2001.82,"v":16.3},{"p":"f","t":2001.95,"v":34.2},{"p":"f","t":2002.12,"v":55.7},{"p":"f","t":2002.27,"v":67.7},{"p":"f","t":2002.38,"v":46.2},{"p":"f","t":2002.51,"v":31.8},{"p":"f","t":2002.59,"v":24.6},{"p":"f","t":2002.76,"v":36.6},{"p":"f","t":2002.89,"v":66.5},{"p":"f","t":2002.99,"v":90.4},{"p":"f","t":2003.15,"v":86.8},{"p":"f","t":2003.23,"v":80.9},{"p":"f","t":2003.33,"v":82.1},{"p":"f","t":2003.4,"v":58.1},{"p":"f","t":2003.53,"v":36.6},{"p":"f","t":2003.62,"v":17.5},{"p":"f","t":2003.87,"v":17.5},{"p":"f","t":2003.96,"v":55.7},{"p":"f","t":2004.0,"v":68.9},{"p":"f","t":2004.13,"v":70.1},{"p":"f","t":2004.2,"v":80.6},{"p":"f","t":2004.34,"v":55.7},{"p":"f","t":2004.51,"v":27},{"p":"f","t":2004.69,"v":22.2},{"p":"f","t":2004.77,"v":13.9},{"p":"f","t":2004.86,"v":46.2},{"p":"f","t":2004.99,"v":77.3},{"p":"f","t":2005.21,"v":86.8},{"p":"f","t":2005.29,"v":73.7},{"p":"f","t":2005.42,"v":41.4},{"p":"f","t":2005.59,"v":27},{"p":"f","t":2005.7,"v":21},{"p":"f","t":2005.85,"v":39},{"p":"f","t":2006.02,"v":60.5},{"p":"f","t":2006.15,"v":74.9},{"p":"f","t":2006.24,"v":88},{"p":"f","t":2006.36,"v":67.7},{"p":"f","t":2006.45,"v":51},{"p":"f","t":2006.53,"v":31.8},{"p":"f","t":2006.66,"v":28.2},{"p":"f","t":2006.79,"v":29.4},{"p":"f","t":2006.92,"v":58.1}
],
"g":[
{"p":"a","t":1985.02,"v":80.9},{"p":"a","t":1985.94,"v":89.2},{"p":"a","t":1987.0,"v":79.9},{"p":"a","t":1988.0,"v":79.2},{"p":"a","t":1989.04,"v":82.8},{"p":"a","t":1989.97,"v":84},{"p":"a","t":1991.0,"v":87.6},{"p":"a","t":1992.02,"v":80.9},{"p":"a","t":1993.0,"v":84.7},{"p":"a","t":1993.95,"v":84.8},{"p":"a","t":1995.13,"v":25.7},{"p":"a","t":1996.23,"v":36},{"p":"a","t":1997.37,"v":44.3},{"p":"a","t":1998.31,"v":53.8},{"p":"a","t":1999.32,"v":60.5},{"p":"a","t":2000.34,"v":60.5},{"p":"a","t":2001.35,"v":60.5},{"p":"a","t":2002.32,"v":57},{"p":"a","t":2002.8,"v":56.7},{"p":"a","t":2004.36,"v":51},{"p":"a","t":2005.39,"v":53.8},{"p":"a","t":2005.98,"v":51.4},
{"p":"b","t":1985.25,"v":45},{"p":"b","t":1986.02,"v":54.3},{"p":"b","t":1987.36,"v":62.2},{"p":"b","t":1988.33,"v":52.9},{"p":"b","t":1989.36,"v":46.7},{"p":"b","t":1990.3,"v":49},{"p":"b","t":1991.24,"v":48.6},{"p":"b","t":1992.04,"v":42.3},{"p":"b","t":1993.06,"v":31.3},{"p":"b","t":1994.33,"v":45},{"p":"b","t":1995.02,"v":59.8},{"p":"b","t":1996.29,"v":52.9},{"p":"b","t":1997.32,"v":54.5},{"p":"b","t":1998.33,"v":55},{"p":"b","t":1999.19,"v":48.8},{"p":"b","t":2000.3,"v":30.1},{"p":"b","t":2001.26,"v":42.1},{"p":"b","t":2002.23,"v":47.4},{"p":"b","t":2003.17,"v":60.5},{"p":"b","t":2004.24,"v":44.3},{"p":"b","t":2005.16,"v":48.1},{"p":"b","t":2006.06,"v":48.3},
{"p":"c","t":1985.0,"v":53.6},{"p":"c","t":1985.98,"v":62.7},{"p":"c","t":1987.01,"v":53.3},{"p":"c","t":1988.21,"v":26.8},{"p":"c","t":1989.27,"v":41.6},{"p":"c","t":1990.23,"v":47.8},{"p":"c","t":1991.16,"v":57.4},{"p":"c","t":1992.27,"v":46.6},{"p":"c","t":1993.03,"v":46.4},{"p":"c","t":1994.29,"v":50.5},{"p":"c","t":1995.02,"v":60.8},{"p":"c","t":1996.14,"v":52.2},{"p":"c","t":1996.91,"v":45.9},{"p":"c","t":1998.07,"v":54.1},{"p":"c","t":1999.32,"v":47.8},{"p":"c","t":1999.89,"v":49.8},{"p":"c","t":2001.35,"v":46.6},{"p":"c","t":2001.96,"v":55.3},{"p":"c","t":2002.8,"v":51},{"p":"c","t":2004.23,"v":51.7},{"p":"c","t":2005.01,"v":52.4},{"p":"c","t":2006.28,"v":49.3},
{"p":"d","t":1985.2,"v":81.3},{"p":"d","t":1986.14,"v":79.9},{"p":"d","t":1987.06,"v":72.7},{"p":"d","t":1988.22,"v":47.2},{"p":"d","t":1989.25,"v":65.5},{"p":"d","t":1990.15,"v":66.7},{"p":"d","t":1991.24,"v":69.8},{"p":"d","t":1992.32,"v":67.9},{"p":"d","t":1993.2,"v":66.4},{"p":"d","t":1994.25,"v":71.5},{"p":"d","t":1995.25,"v":80.3},{"p":"d","t":1996.26,"v":78.2},{"p":"d","t":1997.22,"v":72.9},{"p":"d","t":1998.07,"v":78.7},{"p":"d","t":1999.34,"v":64.7},{"p":"d","t":2000.32,"v":60.9},{"p":"d","t":2001.29,"v":62.8},{"p":"d","t":2002.01,"v":58.5},{"p":"d","t":2003.06,"v":62.6},{"p":"d","t":2004.3,"v":57.3},{"p":"d","t":2005.31,"v":60.7},{"p":"d","t":2006.24,"v":62.1},
{"p":"e","t":1985.25,"v":49.5},{"p":"e","t":1985.91,"v":61},{"p":"e","t":1986.87,"v":49.3},{"p":"e","t":1988.0,"v":56.7},{"p":"e","t":1989.03,"v":48.3},{"p":"e","t":1990.06,"v":61.2},{"p":"e","t":1990.99,"v":57.4},{"p":"e","t":1991.93,"v":50},{"p":"e","t":1992.94,"v":59.8},{"p":"e","t":1993.86,"v":52.9},{"p":"e","t":1995.31,"v":55.7},{"p":"e","t":1995.95,"v":74.9},{"p":"e","t":1997.1,"v":77.8},{"p":"e","t":1998.02,"v":73.2},{"p":"e","t":1999.01,"v":74.9},{"p":"e","t":2000.0,"v":71.1},{"p":"e","t":2001.02,"v":78},{"p":"e","t":2001.93,"v":68.2},{"p":"e","t":2002.85,"v":67.7},{"p":"e","t":2003.96,"v":73.2},{"p":"e","t":2004.95,"v":76.6},{"p":"e","t":2006.03,"v":85.2},
{"p":"f","t":1985.25,"v":70.6},{"p":"f","t":1986.15,"v":67},{"p":"f","t":1987.13,"v":72},{"p":"f","t":1988.31,"v":65.8},{"p":"f","t":1989.34,"v":68.9},{"p":"f","t":1990.13,"v":64.1},{"p":"f","t":1991.31,"v":70.1},{"p":"f","t":1992.36,"v":70.3},{"p":"f","t":1993.37,"v":60},{"p":"f","t":1994.26,"v":69.9},{"p":"f","t":1995.25,"v":72.2},{"p":"f","t":1996.28,"v":77},{"p":"f","t":1997.32,"v":80.4},{"p":"f","t":1998.31,"v":75.8},{"p":"f","t":1999.23,"v":74.9},{"p":"f","t":2000.22,"v":68.2},{"p":"f","t":2001.25,"v":70.8},{"p":"f","t":2002.27,"v":67.7},{"p":"f","t":2002.99,"v":90.4},{"p":"f","t":2004.2,"v":80.6},{"p":"f","t":2005.21,"v":86.8},{"p":"f","t":2006.24,"v":88}
],
"w":[
{"p":"a","t":1984.42,"v":59.8},{"p":"a","t":1986.39,"v":59.3},{"p":"a","t":1987.44,"v":59.3},{"p":"a","t":1988.41,"v":66.5},{"p":"a","t":1989.47,"v":67},{"p":"a","t":1991.4,"v":71.8},{"p":"a","t":1993.37,"v":71.7},{"p":"a","t":1994.39,"v":75.2},{"p":"a","t":1996.41,"v":22.4},{"p":"a","t":1997.37,"v":47},{"p":"a","t":2000.41,"v":59},{"p":"a","t":2002.41,"v":56.7},{"p":"a","t":2004.45,"v":49.8},{"p":"a","t":2005.47,"v":53.8},
{"p":"b","t":1986.39,"v":56.2},{"p":"b","t":1987.45,"v":42.1},{"p":"b","t":1988.41,"v":47.4},{"p":"b","t":1989.47,"v":28.5},{"p":"b","t":1991.4,"v":51},{"p":"b","t":1993.42,"v":28.9},{"p":"b","t":1994.42,"v":29.9},{"p":"b","t":1996.42,"v":34.7},{"p":"b","t":1997.39,"v":51.4},{"p":"b","t":2000.42,"v":17},{"p":"b","t":2002.4,"v":25.1},{"p":"b","t":2004.45,"v":13.2},{"p":"b","t":2005.46,"v":10.3},
{"p":"c","t":1986.39,"v":39},{"p":"c","t":1987.45,"v":36.6},{"p":"c","t":1988.41,"v":11.5},{"p":"c","t":1989.47,"v":23.4},{"p":"c","t":1991.4,"v":27.5},{"p":"c","t":1993.42,"v":31.1},{"p":"c","t":1994.42,"v":37.3},{"p":"c","t":1996.42,"v":38.3},{"p":"c","t":1997.39,"v":45},{"p":"c","t":2000.4,"v":44},{"p":"c","t":2002.42,"v":39.7},{"p":"c","t":2004.45,"v":42.1},{"p":"c","t":2005.44,"v":42.1},
{"p":"d","t":1986.39,"v":52},{"p":"d","t":1987.45,"v":60},{"p":"d","t":1988.41,"v":13.9},{"p":"d","t":1989.47,"v":33.1},{"p":"d","t":1991.4,"v":43.9},{"p":"d","t":1993.42,"v":56.8},{"p":"d","t":1994.42,"v":57.3},{"p":"d","t":1996.42,"v":58},{"p":"d","t":1997.39,"v":59.2},{"p":"d","t":2000.42,"v":55.6},{"p":"d","t":2002.42,"v":54},{"p":"d","t":2004.45,"v":54},{"p":"d","t":2005.46,"v":55.9},
{"p":"e","t":1984.42,"v":42.1},{"p":"e","t":1986.39,"v":46.2},{"p":"e","t":1987.45,"v":43.3},{"p":"e","t":1988.41,"v":44.3},{"p":"e","t":1989.47,"v":36.6},{"p":"e","t":1991.4,"v":46.9},{"p":"e","t":1993.42,"v":42.3},{"p":"e","t":1994.42,"v":46.2},{"p":"e","t":1996.42,"v":45},{"p":"e","t":1997.39,"v":59.8},{"p":"e","t":2000.42,"v":46.7},{"p":"e","t":2002.42,"v":46.7},{"p":"e","t":2004.43,"v":42.3},{"p":"e","t":2005.44,"v":47.4},
{"p":"f","t":1984.42,"v":67},{"p":"f","t":1986.39,"v":58.6},{"p":"f","t":1987.45,"v":62},{"p":"f","t":1988.41,"v":60.5},{"p":"f","t":1989.47,"v":54.5},{"p":"f","t":1991.4,"v":70.1},{"p":"f","t":1993.42,"v":59.3},{"p":"f","t":1994.42,"v":57.7},{"p":"f","t":1996.42,"v":63.6},{"p":"f","t":1997.39,"v":79.9},{"p":"f","t":2000.42,"v":37.3},{"p":"f","t":2002.42,"v":37.6},{"p":"f","t":2004.45,"v":29.9},{"p":"f","t":2005.44,"v":27}
],
"tr":[
{"p":"a","k":"t1","t":1984,"v":65.5},{"p":"a","k":"t1","t":2006.92,"v":49.8},{"p":"a","k":"t2","t":1984,"v":87.6},{"p":"a","k":"t2","t":2006.92,"v":43.8},
{"p":"b","k":"t1","t":1984,"v":53.3},{"p":"b","k":"t1","t":2006.92,"v":12.2},{"p":"b","k":"t2","t":1984,"v":50.5},{"p":"b","k":"t2","t":2006.92,"v":46.7},
{"p":"c","k":"t1","t":1984,"v":25.4},{"p":"c","k":"t1","t":2006.92,"v":45.7},{"p":"c","k":"t2","t":1984,"v":49.8},{"p":"c","k":"t2","t":2006.92,"v":51},
{"p":"d","k":"t1","t":1984,"v":40.8},{"p":"d","k":"t1","t":2006.92,"v":60},{"p":"d","k":"t2","t":1984,"v":73.6},{"p":"d","k":"t2","t":2006.92,"v":61.2},
{"p":"e","k":"t1","t":1984,"v":43.1},{"p":"e","k":"t1","t":2006.92,"v":48.6},{"p":"e","k":"t2","t":1984,"v":49},{"p":"e","k":"t2","t":2006.92,"v":80.9},
{"p":"f","k":"t1","t":1984,"v":71.3},{"p":"f","k":"t1","t":2006.92,"v":34.2},{"p":"f","k":"t2","t":1984,"v":64.1},{"p":"f","k":"t2","t":2006.92,"v":82.8}
],
"txt":[
{"p":"a","k":"id","txt":"(a)"},{"p":"a","k":"h","txt":"delta cover change =\u00a0 -24.81%"},{"p":"a","k":"l1","txt":"Vegetation Dynamics 1.0 cover change =\u00a0 -22.50%"},{"p":"a","k":"l2","txt":"Vegetation Dynamics 2.0 cover change =\u00a0 -47.31%"},
{"p":"b","k":"id","txt":"(b)"},{"p":"b","k":"h","txt":"delta cover change =\u00a0 +66.22%"},{"p":"b","k":"l1","txt":"Vegetation Dynamics 1.0 cover change =\u00a0 -73.63%"},{"p":"b","k":"l2","txt":"Vegetation Dynamics 2.0 cover change =\u00a0\u00a0\u00a0 -7.41%"},
{"p":"c","k":"id","txt":"(c)"},{"p":"c","k":"h","txt":"delta cover change =\u00a0 -73.40%"},{"p":"c","k":"l1","txt":"Vegetation Dynamics 1.0 cover change =\u00a0 +77.69%"},{"p":"c","k":"l2","txt":"Vegetation Dynamics 2.0 cover change =\u00a0\u00a0\u00a0 +4.29%"},
{"p":"d","k":"id","txt":"(d)"},{"p":"d","k":"h","txt":"delta cover change =\u00a0 -63.13%"},{"p":"d","k":"l1","txt":"Vegetation Dynamics 1.0 cover change =\u00a0 +47.31%"},{"p":"d","k":"l2","txt":"Vegetation Dynamics 2.0 cover change =\u00a0 -15.82%"},
{"p":"e","k":"id","txt":"(e)"},{"p":"e","k":"h","txt":"delta cover change =\u00a0 +52.91%"},{"p":"e","k":"l1","txt":"Vegetation Dynamics 1.0 cover change =\u00a0 +11.67%"},{"p":"e","k":"l2","txt":"Vegetation Dynamics 2.0 cover change =\u00a0 +64.58%"},
{"p":"f","k":"id","txt":"(f)"},{"p":"f","k":"h","txt":"delta cover change =\u00a0 +77.34%"},{"p":"f","k":"l1","txt":"Vegetation Dynamics 1.0 cover change =\u00a0 -49.28%"},{"p":"f","k":"l2","txt":"Vegetation Dynamics 2.0 cover change =\u00a0 +28.06%"}
]
},
"vconcat":[
{"width":891,"height":140,"layer":[
{"data":{"name":"s"},"transform":[{"filter":"datum.p=='a'"}],"mark":{"type":"line","interpolate":"monotone","strokeWidth":3.5,"invalid":"break-paths-show-domains","stroke":{"gradient":"linear","x1":0,"y1":0,"x2":1,"y2":0,"stops":[{"offset":0,"color":"#3b8fef"},{"offset":0.148,"color":"#5c78e4"},{"offset":0.259,"color":"#8a56d4"},{"offset":0.39,"color":"#c63fbd"},{"offset":0.478,"color":"#f41f98"},{"offset":0.598,"color":"#fe3a78"},{"offset":0.697,"color":"#ff5a68"},{"offset":0.798,"color":"#ff7c52"},{"offset":0.898,"color":"#ff9c3e"},{"offset":1,"color":"#ffbb2c"}]}},"encoding":{"x":{"field":"t","type":"quantitative","scale":{"domain":[1984,2006.92],"nice":false,"zero":false},"axis":{"values":[1984,1985,1986,1987,1988,1989,1990,1991,1992,1993,1994,1995,1996,1997,1998,1999,2000,2001,2002,2003,2004,2005,2006],"format":"d","labelExpr":"datum.value%2==0?datum.label:''","title":null,"labelFlush":false,"labelOverlap":false}},"y":{"field":"v","type":"quantitative","scale":{"domain":[0,100],"nice":false},"axis":{"values":[0,10,20,30,40,50,60,70,80,90,100],"labels":false,"title":"PV fraction [%]","titleX":-33,"titleBaseline":"bottom","titleAngle":270}}}},
{"data":{"name":"yl"},"mark":{"type":"text","angle":270,"align":"center","baseline":"middle","font":"Liberation Sans","fontWeight":"bold","fontSize":17,"color":"#000","xOffset":-28.5},"encoding":{"x":{"datum":1984,"type":"quantitative"},"y":{"field":"y","type":"quantitative"},"text":{"field":"y","type":"quantitative","format":"d"}}},
{"data":{"name":"s"},"transform":[{"filter":"datum.p=='a'"}],"mark":{"type":"circle","size":18,"opacity":1},"encoding":{"x":{"field":"t","type":"quantitative"},"y":{"field":"v","type":"quantitative"},"color":{"field":"t","type":"quantitative","legend":null,"scale":{"domain":[1984,1987.45,1990,1993,1995,1997.75,2000,2002.3,2004.6,2007],"range":["#3b8fef","#5c78e4","#8a56d4","#c63fbd","#f41f98","#fe3a78","#ff5a68","#ff7c52","#ff9c3e","#ffbb2c"],"interpolate":"rgb"}}}},
{"data":{"name":"tr"},"transform":[{"filter":"datum.p=='a'&&datum.k=='t1'"}],"mark":{"type":"line","color":"#000","strokeWidth":1.5,"strokeDash":[3,3]},"encoding":{"x":{"field":"t","type":"quantitative"},"y":{"field":"v","type":"quantitative"}}},
{"data":{"name":"tr"},"transform":[{"filter":"datum.p=='a'&&datum.k=='t2'"}],"mark":{"type":"line","color":"#2ca02c","strokeWidth":1.5,"strokeDash":[3,3]},"encoding":{"x":{"field":"t","type":"quantitative"},"y":{"field":"v","type":"quantitative"}}},
{"data":{"name":"g"},"transform":[{"filter":"datum.p=='a'"}],"mark":{"type":"point","shape":"circle","filled":true,"fill":"#197b19","stroke":"#000","strokeWidth":1,"size":64,"opacity":1},"encoding":{"x":{"field":"t","type":"quantitative"},"y":{"field":"v","type":"quantitative"}}},
{"data":{"name":"w"},"transform":[{"filter":"datum.p=='a'"}],"mark":{"type":"point","shape":"circle","filled":true,"fill":"#fff","stroke":"#000","strokeWidth":1,"size":64,"opacity":1},"encoding":{"x":{"field":"t","type":"quantitative"},"y":{"field":"v","type":"quantitative"}}},
{"data":{"values":[{}]},"mark":{"type":"rule","color":"#000","strokeWidth":1.5},"encoding":{"y":{"datum":100,"type":"quantitative"}}},
{"data":{"name":"txt"},"transform":[{"filter":"datum.p=='a'&&datum.k=='id'"}],"mark":{"type":"text","align":"left","baseline":"middle","font":"Liberation Serif","fontStyle":"italic","fontSize":16,"color":"#000"},"encoding":{"x":{"datum":1982.61,"type":"quantitative"},"y":{"datum":109.3,"type":"quantitative"},"text":{"field":"txt"}}},
{"data":{"values":[{}]},"mark":{"type":"square","color":"#e8101c","size":30,"opacity":1},"encoding":{"x":{"datum":1984.52,"type":"quantitative"},"y":{"datum":109.3,"type":"quantitative"}}},
{"data":{"name":"txt"},"transform":[{"filter":"datum.p=='a'&&datum.k=='h'"}],"mark":{"type":"text","align":"left","baseline":"middle","fontSize":12.5,"color":"#000"},"encoding":{"x":{"datum":1984.76,"type":"quantitative"},"y":{"datum":109.3,"type":"quantitative"},"text":{"field":"txt"}}},
{"data":{"values":[{}]},"mark":{"type":"rule","color":"#000","strokeWidth":1.5,"strokeDash":[3,3]},"encoding":{"x":{"datum":1984.49,"type":"quantitative"},"x2":{"datum":1985.0},"y":{"datum":22,"type":"quantitative"}}},
{"data":{"values":[{}]},"mark":{"type":"rule","color":"#2ca02c","strokeWidth":1.5,"strokeDash":[3,3]},"encoding":{"x":{"datum":1984.49,"type":"quantitative"},"x2":{"datum":1985.0},"y":{"datum":11.5,"type":"quantitative"}}},
{"data":{"name":"txt"},"transform":[{"filter":"datum.p=='a'&&datum.k=='l1'"}],"mark":{"type":"text","align":"left","baseline":"middle","fontSize":12.5,"color":"#000"},"encoding":{"x":{"datum":1985.34,"type":"quantitative"},"y":{"datum":22,"type":"quantitative"},"text":{"field":"txt"}}},
{"data":{"name":"txt"},"transform":[{"filter":"datum.p=='a'&&datum.k=='l2'"}],"mark":{"type":"text","align":"left","baseline":"middle","fontSize":12.5,"color":"#000"},"encoding":{"x":{"datum":1985.34,"type":"quantitative"},"y":{"datum":11.5,"type":"quantitative"},"text":{"field":"txt"}}}
]},
{"width":891,"height":140,"layer":[
{"data":{"name":"s"},"transform":[{"filter":"datum.p=='b'"}],"mark":{"type":"line","interpolate":"monotone","strokeWidth":3.5,"invalid":"break-paths-show-domains","stroke":{"gradient":"linear","x1":0,"y1":0,"x2":1,"y2":0,"stops":[{"offset":0,"color":"#3b8fef"},{"offset":0.148,"color":"#5c78e4"},{"offset":0.259,"color":"#8a56d4"},{"offset":0.39,"color":"#c63fbd"},{"offset":0.478,"color":"#f41f98"},{"offset":0.598,"color":"#fe3a78"},{"offset":0.697,"color":"#ff5a68"},{"offset":0.798,"color":"#ff7c52"},{"offset":0.898,"color":"#ff9c3e"},{"offset":1,"color":"#ffbb2c"}]}},"encoding":{"x":{"field":"t","type":"quantitative","scale":{"domain":[1984,2006.92],"nice":false,"zero":false},"axis":{"values":[1984,1985,1986,1987,1988,1989,1990,1991,1992,1993,1994,1995,1996,1997,1998,1999,2000,2001,2002,2003,2004,2005,2006],"format":"d","labelExpr":"datum.value%2==0?datum.label:''","title":null,"labelFlush":false,"labelOverlap":false}},"y":{"field":"v","type":"quantitative","scale":{"domain":[0,100],"nice":false},"axis":{"values":[0,10,20,30,40,50,60,70,80,90,100],"labels":false,"title":"PV fraction [%]","titleX":-33,"titleBaseline":"bottom","titleAngle":270}}}},
{"data":{"name":"yl"},"mark":{"type":"text","angle":270,"align":"center","baseline":"middle","font":"Liberation Sans","fontWeight":"bold","fontSize":17,"color":"#000","xOffset":-28.5},"encoding":{"x":{"datum":1984,"type":"quantitative"},"y":{"field":"y","type":"quantitative"},"text":{"field":"y","type":"quantitative","format":"d"}}},
{"data":{"name":"s"},"transform":[{"filter":"datum.p=='b'"}],"mark":{"type":"circle","size":18,"opacity":1},"encoding":{"x":{"field":"t","type":"quantitative"},"y":{"field":"v","type":"quantitative"},"color":{"field":"t","type":"quantitative","legend":null,"scale":{"domain":[1984,1987.45,1990,1993,1995,1997.75,2000,2002.3,2004.6,2007],"range":["#3b8fef","#5c78e4","#8a56d4","#c63fbd","#f41f98","#fe3a78","#ff5a68","#ff7c52","#ff9c3e","#ffbb2c"],"interpolate":"rgb"}}}},
{"data":{"name":"tr"},"transform":[{"filter":"datum.p=='b'&&datum.k=='t1'"}],"mark":{"type":"line","color":"#000","strokeWidth":1.5,"strokeDash":[3,3]},"encoding":{"x":{"field":"t","type":"quantitative"},"y":{"field":"v","type":"quantitative"}}},
{"data":{"name":"tr"},"transform":[{"filter":"datum.p=='b'&&datum.k=='t2'"}],"mark":{"type":"line","color":"#2ca02c","strokeWidth":1.5,"strokeDash":[3,3]},"encoding":{"x":{"field":"t","type":"quantitative"},"y":{"field":"v","type":"quantitative"}}},
{"data":{"name":"g"},"transform":[{"filter":"datum.p=='b'"}],"mark":{"type":"point","shape":"circle","filled":true,"fill":"#197b19","stroke":"#000","strokeWidth":1,"size":64,"opacity":1},"encoding":{"x":{"field":"t","type":"quantitative"},"y":{"field":"v","type":"quantitative"}}},
{"data":{"name":"w"},"transform":[{"filter":"datum.p=='b'"}],"mark":{"type":"point","shape":"circle","filled":true,"fill":"#fff","stroke":"#000","strokeWidth":1,"size":64,"opacity":1},"encoding":{"x":{"field":"t","type":"quantitative"},"y":{"field":"v","type":"quantitative"}}},
{"data":{"values":[{}]},"mark":{"type":"rule","color":"#000","strokeWidth":1.5},"encoding":{"y":{"datum":100,"type":"quantitative"}}},
{"data":{"name":"txt"},"transform":[{"filter":"datum.p=='b'&&datum.k=='id'"}],"mark":{"type":"text","align":"left","baseline":"middle","font":"Liberation Serif","fontStyle":"italic","fontSize":16,"color":"#000"},"encoding":{"x":{"datum":1982.61,"type":"quantitative"},"y":{"datum":109.3,"type":"quantitative"},"text":{"field":"txt"}}},
{"data":{"values":[{}]},"mark":{"type":"square","color":"#2b86f0","size":30,"opacity":1},"encoding":{"x":{"datum":1984.52,"type":"quantitative"},"y":{"datum":109.3,"type":"quantitative"}}},
{"data":{"name":"txt"},"transform":[{"filter":"datum.p=='b'&&datum.k=='h'"}],"mark":{"type":"text","align":"left","baseline":"middle","fontSize":12.5,"color":"#000"},"encoding":{"x":{"datum":1984.76,"type":"quantitative"},"y":{"datum":109.3,"type":"quantitative"},"text":{"field":"txt"}}},
{"data":{"values":[{}]},"mark":{"type":"rule","color":"#000","strokeWidth":1.5,"strokeDash":[3,3]},"encoding":{"x":{"datum":1984.49,"type":"quantitative"},"x2":{"datum":1985.0},"y":{"datum":88.4,"type":"quantitative"}}},
{"data":{"values":[{}]},"mark":{"type":"rule","color":"#2ca02c","strokeWidth":1.5,"strokeDash":[3,3]},"encoding":{"x":{"datum":1984.49,"type":"quantitative"},"x2":{"datum":1985.0},"y":{"datum":77.6,"type":"quantitative"}}},
{"data":{"name":"txt"},"transform":[{"filter":"datum.p=='b'&&datum.k=='l1'"}],"mark":{"type":"text","align":"left","baseline":"middle","fontSize":12.5,"color":"#000"},"encoding":{"x":{"datum":1985.34,"type":"quantitative"},"y":{"datum":88.4,"type":"quantitative"},"text":{"field":"txt"}}},
{"data":{"name":"txt"},"transform":[{"filter":"datum.p=='b'&&datum.k=='l2'"}],"mark":{"type":"text","align":"left","baseline":"middle","fontSize":12.5,"color":"#000"},"encoding":{"x":{"datum":1985.34,"type":"quantitative"},"y":{"datum":77.6,"type":"quantitative"},"text":{"field":"txt"}}}
]},
{"width":891,"height":140,"layer":[
{"data":{"name":"s"},"transform":[{"filter":"datum.p=='c'"}],"mark":{"type":"line","interpolate":"monotone","strokeWidth":3.5,"invalid":"break-paths-show-domains","stroke":{"gradient":"linear","x1":0,"y1":0,"x2":1,"y2":0,"stops":[{"offset":0,"color":"#3b8fef"},{"offset":0.148,"color":"#5c78e4"},{"offset":0.259,"color":"#8a56d4"},{"offset":0.39,"color":"#c63fbd"},{"offset":0.478,"color":"#f41f98"},{"offset":0.598,"color":"#fe3a78"},{"offset":0.697,"color":"#ff5a68"},{"offset":0.798,"color":"#ff7c52"},{"offset":0.898,"color":"#ff9c3e"},{"offset":1,"color":"#ffbb2c"}]}},"encoding":{"x":{"field":"t","type":"quantitative","scale":{"domain":[1984,2006.92],"nice":false,"zero":false},"axis":{"values":[1984,1985,1986,1987,1988,1989,1990,1991,1992,1993,1994,1995,1996,1997,1998,1999,2000,2001,2002,2003,2004,2005,2006],"format":"d","labelExpr":"datum.value%2==0?datum.label:''","title":null,"labelFlush":false,"labelOverlap":false}},"y":{"field":"v","type":"quantitative","scale":{"domain":[0,100],"nice":false},"axis":{"values":[0,10,20,30,40,50,60,70,80,90,100],"labels":false,"title":"PV fraction [%]","titleX":-33,"titleBaseline":"bottom","titleAngle":270}}}},
{"data":{"name":"yl"},"mark":{"type":"text","angle":270,"align":"center","baseline":"middle","font":"Liberation Sans","fontWeight":"bold","fontSize":17,"color":"#000","xOffset":-28.5},"encoding":{"x":{"datum":1984,"type":"quantitative"},"y":{"field":"y","type":"quantitative"},"text":{"field":"y","type":"quantitative","format":"d"}}},
{"data":{"name":"s"},"transform":[{"filter":"datum.p=='c'"}],"mark":{"type":"circle","size":18,"opacity":1},"encoding":{"x":{"field":"t","type":"quantitative"},"y":{"field":"v","type":"quantitative"},"color":{"field":"t","type":"quantitative","legend":null,"scale":{"domain":[1984,1987.45,1990,1993,1995,1997.75,2000,2002.3,2004.6,2007],"range":["#3b8fef","#5c78e4","#8a56d4","#c63fbd","#f41f98","#fe3a78","#ff5a68","#ff7c52","#ff9c3e","#ffbb2c"],"interpolate":"rgb"}}}},
{"data":{"name":"tr"},"transform":[{"filter":"datum.p=='c'&&datum.k=='t1'"}],"mark":{"type":"line","color":"#000","strokeWidth":1.5,"strokeDash":[3,3]},"encoding":{"x":{"field":"t","type":"quantitative"},"y":{"field":"v","type":"quantitative"}}},
{"data":{"name":"tr"},"transform":[{"filter":"datum.p=='c'&&datum.k=='t2'"}],"mark":{"type":"line","color":"#2ca02c","strokeWidth":1.5,"strokeDash":[3,3]},"encoding":{"x":{"field":"t","type":"quantitative"},"y":{"field":"v","type":"quantitative"}}},
{"data":{"name":"g"},"transform":[{"filter":"datum.p=='c'"}],"mark":{"type":"point","shape":"circle","filled":true,"fill":"#197b19","stroke":"#000","strokeWidth":1,"size":64,"opacity":1},"encoding":{"x":{"field":"t","type":"quantitative"},"y":{"field":"v","type":"quantitative"}}},
{"data":{"name":"w"},"transform":[{"filter":"datum.p=='c'"}],"mark":{"type":"point","shape":"circle","filled":true,"fill":"#fff","stroke":"#000","strokeWidth":1,"size":64,"opacity":1},"encoding":{"x":{"field":"t","type":"quantitative"},"y":{"field":"v","type":"quantitative"}}},
{"data":{"values":[{}]},"mark":{"type":"rule","color":"#000","strokeWidth":1.5},"encoding":{"y":{"datum":100,"type":"quantitative"}}},
{"data":{"name":"txt"},"transform":[{"filter":"datum.p=='c'&&datum.k=='id'"}],"mark":{"type":"text","align":"left","baseline":"middle","font":"Liberation Serif","fontStyle":"italic","fontSize":16,"color":"#000"},"encoding":{"x":{"datum":1982.61,"type":"quantitative"},"y":{"datum":109.3,"type":"quantitative"},"text":{"field":"txt"}}},
{"data":{"values":[{}]},"mark":{"type":"square","color":"#ffa800","size":30,"opacity":1},"encoding":{"x":{"datum":1984.52,"type":"quantitative"},"y":{"datum":109.3,"type":"quantitative"}}},
{"data":{"name":"txt"},"transform":[{"filter":"datum.p=='c'&&datum.k=='h'"}],"mark":{"type":"text","align":"left","baseline":"middle","fontSize":12.5,"color":"#000"},"encoding":{"x":{"datum":1984.76,"type":"quantitative"},"y":{"datum":109.3,"type":"quantitative"},"text":{"field":"txt"}}},
{"data":{"values":[{}]},"mark":{"type":"rule","color":"#000","strokeWidth":1.5,"strokeDash":[3,3]},"encoding":{"x":{"datum":1984.49,"type":"quantitative"},"x2":{"datum":1985.0},"y":{"datum":88.4,"type":"quantitative"}}},
{"data":{"values":[{}]},"mark":{"type":"rule","color":"#2ca02c","strokeWidth":1.5,"strokeDash":[3,3]},"encoding":{"x":{"datum":1984.49,"type":"quantitative"},"x2":{"datum":1985.0},"y":{"datum":77.6,"type":"quantitative"}}},
{"data":{"name":"txt"},"transform":[{"filter":"datum.p=='c'&&datum.k=='l1'"}],"mark":{"type":"text","align":"left","baseline":"middle","fontSize":12.5,"color":"#000"},"encoding":{"x":{"datum":1985.34,"type":"quantitative"},"y":{"datum":88.4,"type":"quantitative"},"text":{"field":"txt"}}},
{"data":{"name":"txt"},"transform":[{"filter":"datum.p=='c'&&datum.k=='l2'"}],"mark":{"type":"text","align":"left","baseline":"middle","fontSize":12.5,"color":"#000"},"encoding":{"x":{"datum":1985.34,"type":"quantitative"},"y":{"datum":77.6,"type":"quantitative"},"text":{"field":"txt"}}}
]},
{"width":891,"height":140,"layer":[
{"data":{"name":"s"},"transform":[{"filter":"datum.p=='d'"}],"mark":{"type":"line","interpolate":"monotone","strokeWidth":3.5,"invalid":"break-paths-show-domains","stroke":{"gradient":"linear","x1":0,"y1":0,"x2":1,"y2":0,"stops":[{"offset":0,"color":"#3b8fef"},{"offset":0.148,"color":"#5c78e4"},{"offset":0.259,"color":"#8a56d4"},{"offset":0.39,"color":"#c63fbd"},{"offset":0.478,"color":"#f41f98"},{"offset":0.598,"color":"#fe3a78"},{"offset":0.697,"color":"#ff5a68"},{"offset":0.798,"color":"#ff7c52"},{"offset":0.898,"color":"#ff9c3e"},{"offset":1,"color":"#ffbb2c"}]}},"encoding":{"x":{"field":"t","type":"quantitative","scale":{"domain":[1984,2006.92],"nice":false,"zero":false},"axis":{"values":[1984,1985,1986,1987,1988,1989,1990,1991,1992,1993,1994,1995,1996,1997,1998,1999,2000,2001,2002,2003,2004,2005,2006],"format":"d","labelExpr":"datum.value%2==0?datum.label:''","title":null,"labelFlush":false,"labelOverlap":false}},"y":{"field":"v","type":"quantitative","scale":{"domain":[0,100],"nice":false},"axis":{"values":[0,10,20,30,40,50,60,70,80,90,100],"labels":false,"title":"PV fraction [%]","titleX":-33,"titleBaseline":"bottom","titleAngle":270}}}},
{"data":{"name":"yl"},"mark":{"type":"text","angle":270,"align":"center","baseline":"middle","font":"Liberation Sans","fontWeight":"bold","fontSize":17,"color":"#000","xOffset":-28.5},"encoding":{"x":{"datum":1984,"type":"quantitative"},"y":{"field":"y","type":"quantitative"},"text":{"field":"y","type":"quantitative","format":"d"}}},
{"data":{"name":"s"},"transform":[{"filter":"datum.p=='d'"}],"mark":{"type":"circle","size":18,"opacity":1},"encoding":{"x":{"field":"t","type":"quantitative"},"y":{"field":"v","type":"quantitative"},"color":{"field":"t","type":"quantitative","legend":null,"scale":{"domain":[1984,1987.45,1990,1993,1995,1997.75,2000,2002.3,2004.6,2007],"range":["#3b8fef","#5c78e4","#8a56d4","#c63fbd","#f41f98","#fe3a78","#ff5a68","#ff7c52","#ff9c3e","#ffbb2c"],"interpolate":"rgb"}}}},
{"data":{"name":"tr"},"transform":[{"filter":"datum.p=='d'&&datum.k=='t1'"}],"mark":{"type":"line","color":"#000","strokeWidth":1.5,"strokeDash":[3,3]},"encoding":{"x":{"field":"t","type":"quantitative"},"y":{"field":"v","type":"quantitative"}}},
{"data":{"name":"tr"},"transform":[{"filter":"datum.p=='d'&&datum.k=='t2'"}],"mark":{"type":"line","color":"#2ca02c","strokeWidth":1.5,"strokeDash":[3,3]},"encoding":{"x":{"field":"t","type":"quantitative"},"y":{"field":"v","type":"quantitative"}}},
{"data":{"name":"g"},"transform":[{"filter":"datum.p=='d'"}],"mark":{"type":"point","shape":"circle","filled":true,"fill":"#197b19","stroke":"#000","strokeWidth":1,"size":64,"opacity":1},"encoding":{"x":{"field":"t","type":"quantitative"},"y":{"field":"v","type":"quantitative"}}},
{"data":{"name":"w"},"transform":[{"filter":"datum.p=='d'"}],"mark":{"type":"point","shape":"circle","filled":true,"fill":"#fff","stroke":"#000","strokeWidth":1,"size":64,"opacity":1},"encoding":{"x":{"field":"t","type":"quantitative"},"y":{"field":"v","type":"quantitative"}}},
{"data":{"values":[{}]},"mark":{"type":"rule","color":"#000","strokeWidth":1.5},"encoding":{"y":{"datum":100,"type":"quantitative"}}},
{"data":{"name":"txt"},"transform":[{"filter":"datum.p=='d'&&datum.k=='id'"}],"mark":{"type":"text","align":"left","baseline":"middle","font":"Liberation Serif","fontStyle":"italic","fontSize":16,"color":"#000"},"encoding":{"x":{"datum":1982.61,"type":"quantitative"},"y":{"datum":109.3,"type":"quantitative"},"text":{"field":"txt"}}},
{"data":{"values":[{}]},"mark":{"type":"square","color":"#ff70d0","size":30,"opacity":1},"encoding":{"x":{"datum":1984.52,"type":"quantitative"},"y":{"datum":109.3,"type":"quantitative"}}},
{"data":{"name":"txt"},"transform":[{"filter":"datum.p=='d'&&datum.k=='h'"}],"mark":{"type":"text","align":"left","baseline":"middle","fontSize":12.5,"color":"#000"},"encoding":{"x":{"datum":1984.76,"type":"quantitative"},"y":{"datum":109.3,"type":"quantitative"},"text":{"field":"txt"}}},
{"data":{"values":[{}]},"mark":{"type":"rule","color":"#000","strokeWidth":1.5,"strokeDash":[3,3]},"encoding":{"x":{"datum":1984.49,"type":"quantitative"},"x2":{"datum":1985.0},"y":{"datum":88.4,"type":"quantitative"}}},
{"data":{"values":[{}]},"mark":{"type":"rule","color":"#2ca02c","strokeWidth":1.5,"strokeDash":[3,3]},"encoding":{"x":{"datum":1984.49,"type":"quantitative"},"x2":{"datum":1985.0},"y":{"datum":77.6,"type":"quantitative"}}},
{"data":{"name":"txt"},"transform":[{"filter":"datum.p=='d'&&datum.k=='l1'"}],"mark":{"type":"text","align":"left","baseline":"middle","fontSize":12.5,"color":"#000"},"encoding":{"x":{"datum":1985.34,"type":"quantitative"},"y":{"datum":88.4,"type":"quantitative"},"text":{"field":"txt"}}},
{"data":{"name":"txt"},"transform":[{"filter":"datum.p=='d'&&datum.k=='l2'"}],"mark":{"type":"text","align":"left","baseline":"middle","fontSize":12.5,"color":"#000"},"encoding":{"x":{"datum":1985.34,"type":"quantitative"},"y":{"datum":77.6,"type":"quantitative"},"text":{"field":"txt"}}}
]},
{"width":891,"height":140,"layer":[
{"data":{"name":"s"},"transform":[{"filter":"datum.p=='e'"}],"mark":{"type":"line","interpolate":"monotone","strokeWidth":3.5,"invalid":"break-paths-show-domains","stroke":{"gradient":"linear","x1":0,"y1":0,"x2":1,"y2":0,"stops":[{"offset":0,"color":"#3b8fef"},{"offset":0.148,"color":"#5c78e4"},{"offset":0.259,"color":"#8a56d4"},{"offset":0.39,"color":"#c63fbd"},{"offset":0.478,"color":"#f41f98"},{"offset":0.598,"color":"#fe3a78"},{"offset":0.697,"color":"#ff5a68"},{"offset":0.798,"color":"#ff7c52"},{"offset":0.898,"color":"#ff9c3e"},{"offset":1,"color":"#ffbb2c"}]}},"encoding":{"x":{"field":"t","type":"quantitative","scale":{"domain":[1984,2006.92],"nice":false,"zero":false},"axis":{"values":[1984,1985,1986,1987,1988,1989,1990,1991,1992,1993,1994,1995,1996,1997,1998,1999,2000,2001,2002,2003,2004,2005,2006],"format":"d","labelExpr":"datum.value%2==0?datum.label:''","title":null,"labelFlush":false,"labelOverlap":false}},"y":{"field":"v","type":"quantitative","scale":{"domain":[0,100],"nice":false},"axis":{"values":[0,10,20,30,40,50,60,70,80,90,100],"labels":false,"title":"PV fraction [%]","titleX":-33,"titleBaseline":"bottom","titleAngle":270}}}},
{"data":{"name":"yl"},"mark":{"type":"text","angle":270,"align":"center","baseline":"middle","font":"Liberation Sans","fontWeight":"bold","fontSize":17,"color":"#000","xOffset":-28.5},"encoding":{"x":{"datum":1984,"type":"quantitative"},"y":{"field":"y","type":"quantitative"},"text":{"field":"y","type":"quantitative","format":"d"}}},
{"data":{"name":"s"},"transform":[{"filter":"datum.p=='e'"}],"mark":{"type":"circle","size":18,"opacity":1},"encoding":{"x":{"field":"t","type":"quantitative"},"y":{"field":"v","type":"quantitative"},"color":{"field":"t","type":"quantitative","legend":null,"scale":{"domain":[1984,1987.45,1990,1993,1995,1997.75,2000,2002.3,2004.6,2007],"range":["#3b8fef","#5c78e4","#8a56d4","#c63fbd","#f41f98","#fe3a78","#ff5a68","#ff7c52","#ff9c3e","#ffbb2c"],"interpolate":"rgb"}}}},
{"data":{"name":"tr"},"transform":[{"filter":"datum.p=='e'&&datum.k=='t1'"}],"mark":{"type":"line","color":"#000","strokeWidth":1.5,"strokeDash":[3,3]},"encoding":{"x":{"field":"t","type":"quantitative"},"y":{"field":"v","type":"quantitative"}}},
{"data":{"name":"tr"},"transform":[{"filter":"datum.p=='e'&&datum.k=='t2'"}],"mark":{"type":"line","color":"#2ca02c","strokeWidth":1.5,"strokeDash":[3,3]},"encoding":{"x":{"field":"t","type":"quantitative"},"y":{"field":"v","type":"quantitative"}}},
{"data":{"name":"g"},"transform":[{"filter":"datum.p=='e'"}],"mark":{"type":"point","shape":"circle","filled":true,"fill":"#197b19","stroke":"#000","strokeWidth":1,"size":64,"opacity":1},"encoding":{"x":{"field":"t","type":"quantitative"},"y":{"field":"v","type":"quantitative"}}},
{"data":{"name":"w"},"transform":[{"filter":"datum.p=='e'"}],"mark":{"type":"point","shape":"circle","filled":true,"fill":"#fff","stroke":"#000","strokeWidth":1,"size":64,"opacity":1},"encoding":{"x":{"field":"t","type":"quantitative"},"y":{"field":"v","type":"quantitative"}}},
{"data":{"values":[{}]},"mark":{"type":"rule","color":"#000","strokeWidth":1.5},"encoding":{"y":{"datum":100,"type":"quantitative"}}},
{"data":{"name":"txt"},"transform":[{"filter":"datum.p=='e'&&datum.k=='id'"}],"mark":{"type":"text","align":"left","baseline":"middle","font":"Liberation Serif","fontStyle":"italic","fontSize":16,"color":"#000"},"encoding":{"x":{"datum":1982.61,"type":"quantitative"},"y":{"datum":109.3,"type":"quantitative"},"text":{"field":"txt"}}},
{"data":{"values":[{}]},"mark":{"type":"square","color":"#5aa012","size":30,"opacity":1},"encoding":{"x":{"datum":1984.52,"type":"quantitative"},"y":{"datum":109.3,"type":"quantitative"}}},
{"data":{"name":"txt"},"transform":[{"filter":"datum.p=='e'&&datum.k=='h'"}],"mark":{"type":"text","align":"left","baseline":"middle","fontSize":12.5,"color":"#000"},"encoding":{"x":{"datum":1984.76,"type":"quantitative"},"y":{"datum":109.3,"type":"quantitative"},"text":{"field":"txt"}}},
{"data":{"values":[{}]},"mark":{"type":"rule","color":"#000","strokeWidth":1.5,"strokeDash":[3,3]},"encoding":{"x":{"datum":1984.49,"type":"quantitative"},"x2":{"datum":1985.0},"y":{"datum":88.4,"type":"quantitative"}}},
{"data":{"values":[{}]},"mark":{"type":"rule","color":"#2ca02c","strokeWidth":1.5,"strokeDash":[3,3]},"encoding":{"x":{"datum":1984.49,"type":"quantitative"},"x2":{"datum":1985.0},"y":{"datum":77.6,"type":"quantitative"}}},
{"data":{"name":"txt"},"transform":[{"filter":"datum.p=='e'&&datum.k=='l1'"}],"mark":{"type":"text","align":"left","baseline":"middle","fontSize":12.5,"color":"#000"},"encoding":{"x":{"datum":1985.34,"type":"quantitative"},"y":{"datum":88.4,"type":"quantitative"},"text":{"field":"txt"}}},
{"data":{"name":"txt"},"transform":[{"filter":"datum.p=='e'&&datum.k=='l2'"}],"mark":{"type":"text","align":"left","baseline":"middle","fontSize":12.5,"color":"#000"},"encoding":{"x":{"datum":1985.34,"type":"quantitative"},"y":{"datum":77.6,"type":"quantitative"},"text":{"field":"txt"}}}
]},
{"width":891,"height":140,"layer":[
{"data":{"name":"s"},"transform":[{"filter":"datum.p=='f'"}],"mark":{"type":"line","interpolate":"monotone","strokeWidth":3.5,"invalid":"break-paths-show-domains","stroke":{"gradient":"linear","x1":0,"y1":0,"x2":1,"y2":0,"stops":[{"offset":0,"color":"#3b8fef"},{"offset":0.148,"color":"#5c78e4"},{"offset":0.259,"color":"#8a56d4"},{"offset":0.39,"color":"#c63fbd"},{"offset":0.478,"color":"#f41f98"},{"offset":0.598,"color":"#fe3a78"},{"offset":0.697,"color":"#ff5a68"},{"offset":0.798,"color":"#ff7c52"},{"offset":0.898,"color":"#ff9c3e"},{"offset":1,"color":"#ffbb2c"}]}},"encoding":{"x":{"field":"t","type":"quantitative","scale":{"domain":[1984,2006.92],"nice":false,"zero":false},"axis":{"values":[1984,1985,1986,1987,1988,1989,1990,1991,1992,1993,1994,1995,1996,1997,1998,1999,2000,2001,2002,2003,2004,2005,2006],"format":"d","labelExpr":"datum.value%2==0?datum.label:''","title":null,"labelFlush":false,"labelOverlap":false}},"y":{"field":"v","type":"quantitative","scale":{"domain":[0,100],"nice":false},"axis":{"values":[0,10,20,30,40,50,60,70,80,90,100],"labels":false,"title":"PV fraction [%]","titleX":-33,"titleBaseline":"bottom","titleAngle":270}}}},
{"data":{"name":"yl"},"mark":{"type":"text","angle":270,"align":"center","baseline":"middle","font":"Liberation Sans","fontWeight":"bold","fontSize":17,"color":"#000","xOffset":-28.5},"encoding":{"x":{"datum":1984,"type":"quantitative"},"y":{"field":"y","type":"quantitative"},"text":{"field":"y","type":"quantitative","format":"d"}}},
{"data":{"name":"s"},"transform":[{"filter":"datum.p=='f'"}],"mark":{"type":"circle","size":18,"opacity":1},"encoding":{"x":{"field":"t","type":"quantitative"},"y":{"field":"v","type":"quantitative"},"color":{"field":"t","type":"quantitative","legend":null,"scale":{"domain":[1984,1987.45,1990,1993,1995,1997.75,2000,2002.3,2004.6,2007],"range":["#3b8fef","#5c78e4","#8a56d4","#c63fbd","#f41f98","#fe3a78","#ff5a68","#ff7c52","#ff9c3e","#ffbb2c"],"interpolate":"rgb"}}}},
{"data":{"name":"tr"},"transform":[{"filter":"datum.p=='f'&&datum.k=='t1'"}],"mark":{"type":"line","color":"#000","strokeWidth":1.5,"strokeDash":[3,3]},"encoding":{"x":{"field":"t","type":"quantitative"},"y":{"field":"v","type":"quantitative"}}},
{"data":{"name":"tr"},"transform":[{"filter":"datum.p=='f'&&datum.k=='t2'"}],"mark":{"type":"line","color":"#2ca02c","strokeWidth":1.5,"strokeDash":[3,3]},"encoding":{"x":{"field":"t","type":"quantitative"},"y":{"field":"v","type":"quantitative"}}},
{"data":{"name":"g"},"transform":[{"filter":"datum.p=='f'"}],"mark":{"type":"point","shape":"circle","filled":true,"fill":"#197b19","stroke":"#000","strokeWidth":1,"size":64,"opacity":1},"encoding":{"x":{"field":"t","type":"quantitative"},"y":{"field":"v","type":"quantitative"}}},
{"data":{"name":"w"},"transform":[{"filter":"datum.p=='f'"}],"mark":{"type":"point","shape":"circle","filled":true,"fill":"#fff","stroke":"#000","strokeWidth":1,"size":64,"opacity":1},"encoding":{"x":{"field":"t","type":"quantitative"},"y":{"field":"v","type":"quantitative"}}},
{"data":{"values":[{}]},"mark":{"type":"rule","color":"#000","strokeWidth":1.5},"encoding":{"y":{"datum":100,"type":"quantitative"}}},
{"data":{"name":"txt"},"transform":[{"filter":"datum.p=='f'&&datum.k=='id'"}],"mark":{"type":"text","align":"left","baseline":"middle","font":"Liberation Serif","fontStyle":"italic","fontSize":16,"color":"#000"},"encoding":{"x":{"datum":1982.61,"type":"quantitative"},"y":{"datum":109.3,"type":"quantitative"},"text":{"field":"txt"}}},
{"data":{"values":[{}]},"mark":{"type":"square","color":"#10a080","size":30,"opacity":1},"encoding":{"x":{"datum":1984.52,"type":"quantitative"},"y":{"datum":109.3,"type":"quantitative"}}},
{"data":{"name":"txt"},"transform":[{"filter":"datum.p=='f'&&datum.k=='h'"}],"mark":{"type":"text","align":"left","baseline":"middle","fontSize":12.5,"color":"#000"},"encoding":{"x":{"datum":1984.76,"type":"quantitative"},"y":{"datum":109.3,"type":"quantitative"},"text":{"field":"txt"}}},
{"data":{"values":[{}]},"mark":{"type":"rule","color":"#000","strokeWidth":1.5,"strokeDash":[3,3]},"encoding":{"x":{"datum":1984.49,"type":"quantitative"},"x2":{"datum":1985.0},"y":{"datum":22,"type":"quantitative"}}},
{"data":{"values":[{}]},"mark":{"type":"rule","color":"#2ca02c","strokeWidth":1.5,"strokeDash":[3,3]},"encoding":{"x":{"datum":1984.49,"type":"quantitative"},"x2":{"datum":1985.0},"y":{"datum":11.5,"type":"quantitative"}}},
{"data":{"name":"txt"},"transform":[{"filter":"datum.p=='f'&&datum.k=='l1'"}],"mark":{"type":"text","align":"left","baseline":"middle","fontSize":12.5,"color":"#000"},"encoding":{"x":{"datum":1985.34,"type":"quantitative"},"y":{"datum":22,"type":"quantitative"},"text":{"field":"txt"}}},
{"data":{"name":"txt"},"transform":[{"filter":"datum.p=='f'&&datum.k=='l2'"}],"mark":{"type":"text","align":"left","baseline":"middle","fontSize":12.5,"color":"#000"},"encoding":{"x":{"datum":1985.34,"type":"quantitative"},"y":{"datum":11.5,"type":"quantitative"},"text":{"field":"txt"}}}
]}
]
}
